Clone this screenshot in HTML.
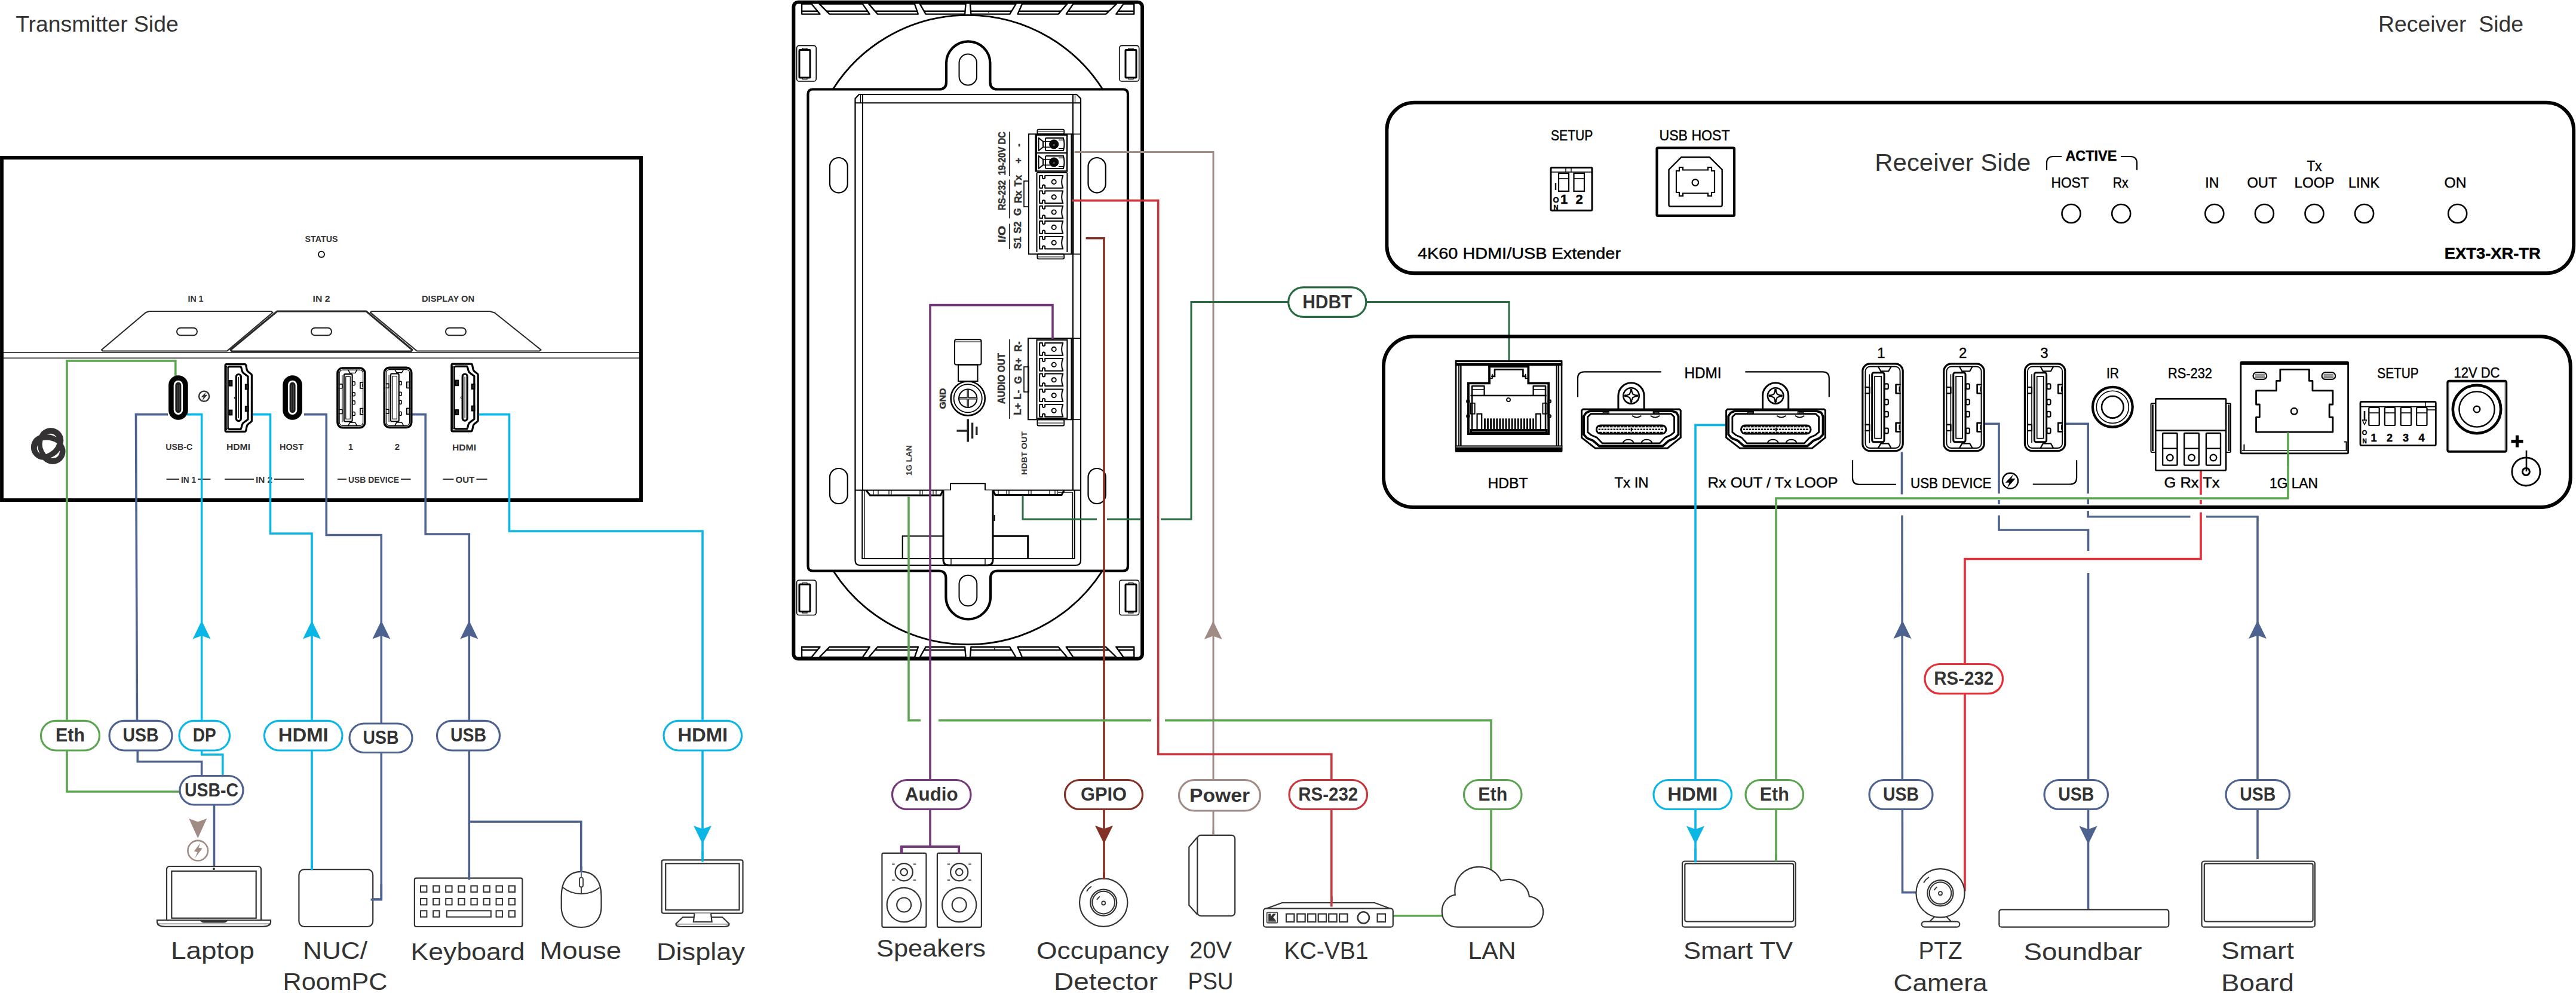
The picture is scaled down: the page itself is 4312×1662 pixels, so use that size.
<!DOCTYPE html>
<html><head><meta charset="utf-8"><title>Diagram</title>
<style>html,body{margin:0;padding:0;background:#fff}svg{display:block}text{font-family:"Liberation Sans",sans-serif}</style>
</head><body>
<svg width="4312" height="1662" viewBox="0 0 4312 1662">
<rect width="4312" height="1662" fill="#fff"/>
<text x="26.2" y="52.7" font-size="37" text-anchor="start" font-weight="normal" fill="#333333" textLength="272.5" lengthAdjust="spacingAndGlyphs" >Transmitter Side</text>
<text x="3981" y="52.8" font-size="37" text-anchor="start" font-weight="normal" fill="#333333" textLength="243" lengthAdjust="spacingAndGlyphs" >Receiver  Side</text>
<rect x="3" y="264" width="1070" height="573" rx="0" ry="0" fill="none" stroke="#000000" stroke-width="5.9" />
<path d="M6,590 L1070,590" fill="none" stroke="#111" stroke-width="1.6" stroke-linejoin="miter" />
<path d="M6,599.3 L1070,599.3" fill="none" stroke="#111" stroke-width="1.6" stroke-linejoin="miter" />
<text x="538" y="404.5" font-size="15" text-anchor="middle" font-weight="bold" fill="#333333" textLength="55" lengthAdjust="spacingAndGlyphs" >STATUS</text>
<circle cx="538" cy="425.7" r="5" fill="none" stroke="#111" stroke-width="2"/>
<text x="327.5" y="504.5" font-size="15" text-anchor="middle" font-weight="bold" fill="#333333" textLength="26" lengthAdjust="spacingAndGlyphs" >IN 1</text>
<text x="538" y="504.5" font-size="15" text-anchor="middle" font-weight="bold" fill="#333333" textLength="29" lengthAdjust="spacingAndGlyphs" >IN 2</text>
<text x="750" y="504.5" font-size="15" text-anchor="middle" font-weight="bold" fill="#333333" textLength="88" lengthAdjust="spacingAndGlyphs" >DISPLAY ON</text>
<path d="M250,521 L454,521 L456.5,523 L380,587.5 L172,587.5 L170,585.5 L244,523 Z" fill="#fff" stroke="#2a2a2a" stroke-width="2.2" stroke-linejoin="round"/>
<path d="M622,521 L820,521 L828,523.5 L905.5,585.5 L903,587.5 L698,587.5 L620,523 Z" fill="#fff" stroke="#2a2a2a" stroke-width="2.2" stroke-linejoin="round"/>
<path d="M464,521 L613,521 L690,585.5 L688,588 L388,588 L386,585.5 Z" fill="#fff" stroke="#2a2a2a" stroke-width="3" stroke-linejoin="round"/>
<rect x="296" y="548.7" width="34" height="12.6" rx="6.3" ry="6.3" fill="none" stroke="#222" stroke-width="2" />
<rect x="521" y="548.7" width="34" height="12.6" rx="6.3" ry="6.3" fill="none" stroke="#222" stroke-width="2" />
<rect x="746" y="548.7" width="34" height="12.6" rx="6.3" ry="6.3" fill="none" stroke="#222" stroke-width="2" />
<text x="299.7" y="752.7" font-size="15" text-anchor="middle" font-weight="bold" fill="#333333" textLength="45" lengthAdjust="spacingAndGlyphs" >USB-C</text>
<text x="399" y="752.7" font-size="15" text-anchor="middle" font-weight="bold" fill="#333333" textLength="40" lengthAdjust="spacingAndGlyphs" >HDMI</text>
<text x="488" y="752.7" font-size="15" text-anchor="middle" font-weight="bold" fill="#333333" textLength="40" lengthAdjust="spacingAndGlyphs" >HOST</text>
<text x="587" y="752.7" font-size="15" text-anchor="middle" font-weight="bold" fill="#333333" >1</text>
<text x="665" y="752.7" font-size="15" text-anchor="middle" font-weight="bold" fill="#333333" >2</text>
<text x="777" y="753.7" font-size="15" text-anchor="middle" font-weight="bold" fill="#333333" textLength="40" lengthAdjust="spacingAndGlyphs" >HDMI</text>
<text x="315.5" y="807.5" font-size="15" text-anchor="middle" font-weight="bold" fill="#333333" textLength="25" lengthAdjust="spacingAndGlyphs" >IN 1</text>
<path d="M278.5,802 L300,802" fill="none" stroke="#333" stroke-width="2" stroke-linejoin="miter" />
<path d="M331,802 L352.5,802" fill="none" stroke="#333" stroke-width="2" stroke-linejoin="miter" />
<text x="442" y="807.5" font-size="15" text-anchor="middle" font-weight="bold" fill="#333333" textLength="28" lengthAdjust="spacingAndGlyphs" >IN 2</text>
<path d="M376,802 L425,802" fill="none" stroke="#333" stroke-width="2" stroke-linejoin="miter" />
<path d="M459,802 L509,802" fill="none" stroke="#333" stroke-width="2" stroke-linejoin="miter" />
<text x="625.5" y="807.5" font-size="15" text-anchor="middle" font-weight="bold" fill="#333333" textLength="85" lengthAdjust="spacingAndGlyphs" >USB DEVICE</text>
<path d="M565,802 L580,802" fill="none" stroke="#333" stroke-width="2" stroke-linejoin="miter" />
<path d="M671,802 L687.5,802" fill="none" stroke="#333" stroke-width="2" stroke-linejoin="miter" />
<text x="778.4" y="807.5" font-size="15" text-anchor="middle" font-weight="bold" fill="#333333" textLength="32" lengthAdjust="spacingAndGlyphs" >OUT</text>
<path d="M741.5,802 L759.4,802" fill="none" stroke="#333" stroke-width="2" stroke-linejoin="miter" />
<path d="M797.4,802 L815.5,802" fill="none" stroke="#333" stroke-width="2" stroke-linejoin="miter" />
<path d="M293.8,629 L293.8,604 L112,604 L112,1325 L300,1325" fill="none" stroke="#5ba551" stroke-width="3.6" stroke-linejoin="miter" />
<path d="M281,693.6 L227.5,693.6 L229.5,1208" fill="none" stroke="#4e628f" stroke-width="3.6" stroke-linejoin="miter" />
<path d="M230.3,1255 L230.3,1274.8 L337.6,1274.8 L337.6,1298" fill="none" stroke="#4e628f" stroke-width="3.6" stroke-linejoin="miter" />
<path d="M313,693.6 L337.6,693.6 L337.6,1208" fill="none" stroke="#0ab6e6" stroke-width="3.6" stroke-linejoin="miter" />
<path d="M337.6,1255 L337.6,1263 L372.8,1263 L372.8,1298" fill="none" stroke="#0ab6e6" stroke-width="3.6" stroke-linejoin="miter" />
<path d="M423,693.6 L452.5,693.6 L452.5,893 L522,893 L522,1454" fill="none" stroke="#0ab6e6" stroke-width="3.6" stroke-linejoin="miter" />
<path d="M509,693.6 L546.3,693.6 L546.3,895.5 L638.3,895.5 L638.3,1505 L621,1505" fill="none" stroke="#4e628f" stroke-width="3.6" stroke-linejoin="miter" />
<path d="M690,693.6 L712.2,693.6 L712.2,894 L785.3,894 L785.3,1471" fill="none" stroke="#4e628f" stroke-width="3.6" stroke-linejoin="miter" />
<path d="M785.3,1375.3 L972.7,1375.3 L972.7,1484" fill="none" stroke="#4e628f" stroke-width="3.6" stroke-linejoin="miter" />
<path d="M802,693.6 L852.5,693.6 L852.5,889 L1176,889 L1176,1441" fill="none" stroke="#0ab6e6" stroke-width="3.6" stroke-linejoin="miter" />
<path d="M358.5,1346 L358.5,1454" fill="none" stroke="#4e628f" stroke-width="3.6" stroke-linejoin="miter" />
<path d="M337.6,1038.8 L352.6,1069.4 L337.6,1063.9 L322.6,1069.4 Z" fill="#0ab6e6" stroke="none"/>
<path d="M522,1038.8 L537,1069.4 L522,1063.9 L507,1069.4 Z" fill="#0ab6e6" stroke="none"/>
<path d="M638.3,1038.8 L653.3,1069.4 L638.3,1063.9 L623.3,1069.4 Z" fill="#4e628f" stroke="none"/>
<path d="M785.3,1038.8 L800.3,1069.4 L785.3,1063.9 L770.3,1069.4 Z" fill="#4e628f" stroke="none"/>
<path d="M1176,1412.5 L1191,1381.9 L1176,1387.4 L1161,1381.9 Z" fill="#0ab6e6" stroke="none"/>
<path d="M331.2,1403 L346.2,1370 L331.2,1375.5 L316.2,1370 Z" fill="#a18b85" stroke="none"/>
<rect x="68.5" y="1206.3" width="98" height="49.7" rx="24.85" ry="24.85" fill="#fff" stroke="#5ba551" stroke-width="3.2" />
<text x="117.5" y="1240.91" font-size="30.5" text-anchor="middle" font-weight="bold" fill="#333333" textLength="49" lengthAdjust="spacingAndGlyphs" >Eth</text>
<rect x="183" y="1206.3" width="105" height="49.7" rx="24.85" ry="24.85" fill="#fff" stroke="#4e628f" stroke-width="3.2" />
<text x="235.5" y="1240.91" font-size="30.5" text-anchor="middle" font-weight="bold" fill="#333333" textLength="60" lengthAdjust="spacingAndGlyphs" >USB</text>
<rect x="300" y="1206.3" width="84.5" height="49.7" rx="24.85" ry="24.85" fill="#fff" stroke="#0ab6e6" stroke-width="3.2" />
<text x="342.25" y="1240.91" font-size="30.5" text-anchor="middle" font-weight="bold" fill="#333333" textLength="39" lengthAdjust="spacingAndGlyphs" >DP</text>
<rect x="442.5" y="1206.3" width="130.5" height="49.7" rx="24.85" ry="24.85" fill="#fff" stroke="#0ab6e6" stroke-width="3.2" />
<text x="507.75" y="1240.91" font-size="30.5" text-anchor="middle" font-weight="bold" fill="#333333" textLength="84" lengthAdjust="spacingAndGlyphs" >HDMI</text>
<rect x="585" y="1211" width="105" height="48.5" rx="24.25" ry="24.25" fill="#fff" stroke="#4e628f" stroke-width="3.2" />
<text x="637.5" y="1245.01" font-size="30.5" text-anchor="middle" font-weight="bold" fill="#333333" textLength="60" lengthAdjust="spacingAndGlyphs" >USB</text>
<rect x="731.5" y="1206.3" width="105" height="49.7" rx="24.85" ry="24.85" fill="#fff" stroke="#4e628f" stroke-width="3.2" />
<text x="784" y="1240.91" font-size="30.5" text-anchor="middle" font-weight="bold" fill="#333333" textLength="60" lengthAdjust="spacingAndGlyphs" >USB</text>
<rect x="1111" y="1206.3" width="130.5" height="49.7" rx="24.85" ry="24.85" fill="#fff" stroke="#0ab6e6" stroke-width="3.2" />
<text x="1176.25" y="1240.91" font-size="30.5" text-anchor="middle" font-weight="bold" fill="#333333" textLength="84" lengthAdjust="spacingAndGlyphs" >HDMI</text>
<rect x="301" y="1298.5" width="106" height="48.5" rx="24.25" ry="24.25" fill="#fff" stroke="#4e628f" stroke-width="3.2" />
<text x="354" y="1332.51" font-size="30.5" text-anchor="middle" font-weight="bold" fill="#333333" textLength="90" lengthAdjust="spacingAndGlyphs" >USB-C</text>
<text x="356" y="1605.3" font-size="41.5" text-anchor="middle" font-weight="normal" fill="#333333" textLength="140" lengthAdjust="spacingAndGlyphs" >Laptop</text>
<text x="561" y="1605.3" font-size="41.5" text-anchor="middle" font-weight="normal" fill="#333333" textLength="108" lengthAdjust="spacingAndGlyphs" >NUC/</text>
<text x="561" y="1657.3" font-size="41.5" text-anchor="middle" font-weight="normal" fill="#333333" textLength="175" lengthAdjust="spacingAndGlyphs" >RoomPC</text>
<text x="783" y="1607.3" font-size="41.5" text-anchor="middle" font-weight="normal" fill="#333333" textLength="191" lengthAdjust="spacingAndGlyphs" >Keyboard</text>
<text x="971.7" y="1605.3" font-size="41.5" text-anchor="middle" font-weight="normal" fill="#333333" textLength="137" lengthAdjust="spacingAndGlyphs" >Mouse</text>
<text x="1173" y="1607.3" font-size="41.5" text-anchor="middle" font-weight="normal" fill="#333333" textLength="148" lengthAdjust="spacingAndGlyphs" >Display</text>
<rect x="1328.4" y="3.6" width="583.7" height="1098.9" rx="7.5" ry="7.5" fill="none" stroke="#000" stroke-width="5.9" />
<path d="M1394.8,148.5 A 267.5 267.5 0 0 1 1845.2,148.5" fill="none" stroke="#000" stroke-width="2.8" />
<path d="M1394.8,955.5 A 267.5 267.5 0 0 0 1845.2,955.5" fill="none" stroke="#000" stroke-width="2.8" />
<path d="M1342.1,1082.8 L1372.5,1082.8 L1358.4,1100 L1342.1,1100 Z" fill="#fff" stroke="#000" stroke-width="2.4" stroke-linejoin="round"/>
<path d="M1342.1,1087.9 L1368.32,1087.9" fill="none" stroke="#000" stroke-width="2.4" stroke-linejoin="miter" />
<path d="M1388.5,1082.8 L1455.7,1082.8 L1443.9,1100 L1371.6,1100 Z" fill="#fff" stroke="#000" stroke-width="2.4" stroke-linejoin="round"/>
<path d="M1383.49,1087.9 L1452.2,1087.9" fill="none" stroke="#000" stroke-width="2.4" stroke-linejoin="miter" />
<path d="M1469,1082.8 L1536.9,1082.8 L1531,1100 L1454.3,1100 Z" fill="#fff" stroke="#000" stroke-width="2.4" stroke-linejoin="round"/>
<path d="M1464.64,1087.9 L1535.15,1087.9" fill="none" stroke="#000" stroke-width="2.4" stroke-linejoin="miter" />
<path d="M1549.6,1082.8 L1615.1,1082.8 L1616.6,1100 L1539.8,1100 Z" fill="#fff" stroke="#000" stroke-width="2.4" stroke-linejoin="round"/>
<path d="M1546.69,1087.9 L1615.54,1087.9" fill="none" stroke="#000" stroke-width="2.4" stroke-linejoin="miter" />
<path d="M1625.4,1082.8 L1690.3,1082.8 L1700.6,1100 L1623.9,1100 Z" fill="#fff" stroke="#000" stroke-width="2.4" stroke-linejoin="round"/>
<path d="M1624.96,1087.9 L1693.35,1087.9" fill="none" stroke="#000" stroke-width="2.4" stroke-linejoin="miter" />
<path d="M1703.6,1082.8 L1771.5,1082.8 L1786.2,1100 L1711,1100 Z" fill="#fff" stroke="#000" stroke-width="2.4" stroke-linejoin="round"/>
<path d="M1705.79,1087.9 L1775.86,1087.9" fill="none" stroke="#000" stroke-width="2.4" stroke-linejoin="miter" />
<path d="M1784.7,1082.8 L1851.1,1082.8 L1868.8,1100 L1796.5,1100 Z" fill="#fff" stroke="#000" stroke-width="2.4" stroke-linejoin="round"/>
<path d="M1788.2,1087.9 L1856.35,1087.9" fill="none" stroke="#000" stroke-width="2.4" stroke-linejoin="miter" />
<path d="M1868.2,1082.8 L1898.3,1082.8 L1898.3,1100 L1880.6,1100 Z" fill="#fff" stroke="#000" stroke-width="2.4" stroke-linejoin="round"/>
<path d="M1871.88,1087.9 L1898.3,1087.9" fill="none" stroke="#000" stroke-width="2.4" stroke-linejoin="miter" />
<path d="M1342.1,23.6 L1372.5,23.6 L1358.4,6.6 L1342.1,6.6 Z" fill="#fff" stroke="#000" stroke-width="2.4" stroke-linejoin="round"/>
<path d="M1342.1,18.7 L1368.44,18.7" fill="none" stroke="#000" stroke-width="2.4" stroke-linejoin="miter" />
<path d="M1388.5,23.6 L1455.7,23.6 L1443.9,6.6 L1371.6,6.6 Z" fill="#fff" stroke="#000" stroke-width="2.4" stroke-linejoin="round"/>
<path d="M1383.63,18.7 L1452.3,18.7" fill="none" stroke="#000" stroke-width="2.4" stroke-linejoin="miter" />
<path d="M1469,23.6 L1536.9,23.6 L1531,6.6 L1454.3,6.6 Z" fill="#fff" stroke="#000" stroke-width="2.4" stroke-linejoin="round"/>
<path d="M1464.76,18.7 L1535.2,18.7" fill="none" stroke="#000" stroke-width="2.4" stroke-linejoin="miter" />
<path d="M1549.6,23.6 L1615.1,23.6 L1616.6,6.6 L1539.8,6.6 Z" fill="#fff" stroke="#000" stroke-width="2.4" stroke-linejoin="round"/>
<path d="M1546.78,18.7 L1615.53,18.7" fill="none" stroke="#000" stroke-width="2.4" stroke-linejoin="miter" />
<path d="M1625.4,23.6 L1690.3,23.6 L1700.6,6.6 L1623.9,6.6 Z" fill="#fff" stroke="#000" stroke-width="2.4" stroke-linejoin="round"/>
<path d="M1624.97,18.7 L1693.27,18.7" fill="none" stroke="#000" stroke-width="2.4" stroke-linejoin="miter" />
<path d="M1703.6,23.6 L1771.5,23.6 L1786.2,6.6 L1711,6.6 Z" fill="#fff" stroke="#000" stroke-width="2.4" stroke-linejoin="round"/>
<path d="M1705.73,18.7 L1775.74,18.7" fill="none" stroke="#000" stroke-width="2.4" stroke-linejoin="miter" />
<path d="M1784.7,23.6 L1851.1,23.6 L1868.8,6.6 L1796.5,6.6 Z" fill="#fff" stroke="#000" stroke-width="2.4" stroke-linejoin="round"/>
<path d="M1788.1,18.7 L1856.2,18.7" fill="none" stroke="#000" stroke-width="2.4" stroke-linejoin="miter" />
<path d="M1868.2,23.6 L1898.3,23.6 L1898.3,6.6 L1880.6,6.6 Z" fill="#fff" stroke="#000" stroke-width="2.4" stroke-linejoin="round"/>
<path d="M1871.77,18.7 L1898.3,18.7" fill="none" stroke="#000" stroke-width="2.4" stroke-linejoin="miter" />
<path d="M1665,1085 L1665,1088" fill="none" stroke="#000" stroke-width="1.5" stroke-linejoin="miter" />
<path d="M1655,21.5 L1655,18.7" fill="none" stroke="#000" stroke-width="1.5" stroke-linejoin="miter" />
<rect x="1333.6" y="76.4" width="32.6" height="59.6" rx="4" ry="4" fill="none" stroke="#000" stroke-width="1.6" />
<rect x="1338" y="83.4" width="18" height="46.6" rx="1" ry="1" fill="none" stroke="#000" stroke-width="3" />
<rect x="1343" y="80.9" width="8" height="2.5" rx="0" ry="0" fill="none" stroke="#000" stroke-width="1.2" />
<rect x="1343" y="130" width="8" height="2.5" rx="0" ry="0" fill="none" stroke="#000" stroke-width="1.2" />
<rect x="1333.6" y="971" width="32.6" height="58.5" rx="4" ry="4" fill="none" stroke="#000" stroke-width="1.6" />
<rect x="1338" y="978" width="18" height="45.5" rx="1" ry="1" fill="none" stroke="#000" stroke-width="3" />
<rect x="1343" y="975.5" width="8" height="2.5" rx="0" ry="0" fill="none" stroke="#000" stroke-width="1.2" />
<rect x="1343" y="1023.5" width="8" height="2.5" rx="0" ry="0" fill="none" stroke="#000" stroke-width="1.2" />
<rect x="1873.7" y="76.4" width="33" height="59.6" rx="4" ry="4" fill="none" stroke="#000" stroke-width="1.6" />
<rect x="1884" y="83.4" width="18" height="46.6" rx="1" ry="1" fill="none" stroke="#000" stroke-width="3" />
<rect x="1889" y="80.9" width="8" height="2.5" rx="0" ry="0" fill="none" stroke="#000" stroke-width="1.2" />
<rect x="1889" y="130" width="8" height="2.5" rx="0" ry="0" fill="none" stroke="#000" stroke-width="1.2" />
<rect x="1873.7" y="971" width="33" height="58.5" rx="4" ry="4" fill="none" stroke="#000" stroke-width="1.6" />
<rect x="1884" y="978" width="18" height="45.5" rx="1" ry="1" fill="none" stroke="#000" stroke-width="3" />
<rect x="1889" y="975.5" width="8" height="2.5" rx="0" ry="0" fill="none" stroke="#000" stroke-width="1.2" />
<rect x="1889" y="1023.5" width="8" height="2.5" rx="0" ry="0" fill="none" stroke="#000" stroke-width="1.2" />
<path d="M1360.5,149.5 L1572,149.5 Q1584,149.5 1584,137.5 L1584,106 A36.7 36.7 0 0 1 1657.4,106 L1657.4,137.5 Q1657.4,149.5 1669.4,149.5 L1880,149.5 Q1888,149.5 1888,157.5 L1888,947.5 Q1888,955.5 1880,955.5 L1670,955.5 Q1658,955.5 1658,967.5 L1658,999 A37.3 37.3 0 0 1 1583.4,999 L1583.4,967.5 Q1583.4,955.5 1571.4,955.5 L1360.5,955.5 Q1352.5,955.5 1352.5,947.5 L1352.5,157.5 Q1352.5,149.5 1360.5,149.5 Z" fill="#fff" stroke="#000" stroke-width="4.2" />
<rect x="1605.5" y="90.6" width="29.5" height="52" rx="14.7" ry="14.7" fill="none" stroke="#000" stroke-width="2" />
<rect x="1605.5" y="962.7" width="29.8" height="51.5" rx="14.9" ry="14.9" fill="none" stroke="#000" stroke-width="2" />
<rect x="1389" y="264" width="29.8" height="58.6" rx="14.8" ry="14.8" fill="none" stroke="#000" stroke-width="2.2" />
<rect x="1389" y="784" width="29.8" height="59" rx="14.8" ry="14.8" fill="none" stroke="#000" stroke-width="2.2" />
<rect x="1821.5" y="264" width="29.3" height="58.6" rx="14.8" ry="14.8" fill="none" stroke="#000" stroke-width="2.2" />
<rect x="1821.5" y="784" width="29.3" height="59" rx="14.8" ry="14.8" fill="none" stroke="#000" stroke-width="2.2" />
<path d="M1431.5,165 L1438,158 L1802,158 L1809,165 L1809,938 Q1809,946 1801,946 L1439.5,946 Q1431.5,946 1431.5,938 Z" fill="#fff" stroke="#000" stroke-width="2.2" />
<path d="M1431.5,172.2 L1809,172.2" fill="none" stroke="#000" stroke-width="2" stroke-linejoin="miter" />
<path d="M1444,158 L1444,820.5" fill="none" stroke="#000" stroke-width="2" stroke-linejoin="miter" />
<path d="M1440.5,158 L1440.5,172" fill="none" stroke="#000" stroke-width="1.2" stroke-linejoin="miter" />
<path d="M1796,158 L1796,820.5" fill="none" stroke="#000" stroke-width="2" stroke-linejoin="miter" />
<path d="M1799.5,158 L1799.5,172" fill="none" stroke="#000" stroke-width="1.2" stroke-linejoin="miter" />
<path d="M1431.5,820.5 L1591,820.5 L1591,809.2 L1649,809.2 L1649,820.5 L1809,820.5" fill="none" stroke="#000" stroke-width="2" stroke-linejoin="miter" />
<path d="M1443.3,820.5 L1443.3,935 L1798.7,935 L1798.7,820.5" fill="none" stroke="#000" stroke-width="2" stroke-linejoin="miter" />
<path d="M1446.8,820.5 L1446.8,935" fill="none" stroke="#000" stroke-width="1.4" stroke-linejoin="miter" />
<path d="M1795.4,824 L1795.4,935" fill="none" stroke="#000" stroke-width="1.4" stroke-linejoin="miter" />
<path d="M1771,824 L1795.4,824" fill="none" stroke="#000" stroke-width="1.4" stroke-linejoin="miter" />
<path d="M1450,821 L1456.5,829 L1574.5,829 L1578,821" fill="none" stroke="#000" stroke-width="3" />
<path d="M1662.5,821 L1666,828.5 L1777,828.5 L1781,821" fill="none" stroke="#000" stroke-width="3" />
<path d="M1462,821 L1462,827.5" fill="none" stroke="#000" stroke-width="1.2" stroke-linejoin="miter" />
<path d="M1470,821 L1470,827.5" fill="none" stroke="#000" stroke-width="1.2" stroke-linejoin="miter" />
<path d="M1488,821 L1488,827.5" fill="none" stroke="#000" stroke-width="1.2" stroke-linejoin="miter" />
<path d="M1492,821 L1492,827.5" fill="none" stroke="#000" stroke-width="1.2" stroke-linejoin="miter" />
<path d="M1540,821 L1540,827.5" fill="none" stroke="#000" stroke-width="1.2" stroke-linejoin="miter" />
<path d="M1544,821 L1544,827.5" fill="none" stroke="#000" stroke-width="1.2" stroke-linejoin="miter" />
<path d="M1562,821 L1562,827.5" fill="none" stroke="#000" stroke-width="1.2" stroke-linejoin="miter" />
<path d="M1567,821 L1567,827.5" fill="none" stroke="#000" stroke-width="1.2" stroke-linejoin="miter" />
<path d="M1671,821 L1671,827.5" fill="none" stroke="#000" stroke-width="1.2" stroke-linejoin="miter" />
<path d="M1685,821 L1685,827.5" fill="none" stroke="#000" stroke-width="1.2" stroke-linejoin="miter" />
<path d="M1689,821 L1689,827.5" fill="none" stroke="#000" stroke-width="1.2" stroke-linejoin="miter" />
<path d="M1722,821 L1722,827.5" fill="none" stroke="#000" stroke-width="1.2" stroke-linejoin="miter" />
<path d="M1726,821 L1726,827.5" fill="none" stroke="#000" stroke-width="1.2" stroke-linejoin="miter" />
<path d="M1757,821 L1757,827.5" fill="none" stroke="#000" stroke-width="1.2" stroke-linejoin="miter" />
<path d="M1766,821 L1766,827.5" fill="none" stroke="#000" stroke-width="1.2" stroke-linejoin="miter" />
<path d="M1770,821 L1770,827.5" fill="none" stroke="#000" stroke-width="1.2" stroke-linejoin="miter" />
<path d="M1579,820.5 L1579,937 Q1579,946 1588,946 L1653,946 Q1662,946 1662,937 L1662,820.5" fill="#fff" stroke="#000" stroke-width="3" />
<path d="M1579,935 L1662,935" fill="none" stroke="#000" stroke-width="2" stroke-linejoin="miter" />
<path d="M1592,935 L1592,946" fill="none" stroke="#000" stroke-width="1.4" stroke-linejoin="miter" />
<path d="M1649,935 L1649,946" fill="none" stroke="#000" stroke-width="1.4" stroke-linejoin="miter" />
<path d="M1510.7,935 L1510.7,897.3 L1579,897.3" fill="none" stroke="#000" stroke-width="2" stroke-linejoin="miter" />
<path d="M1662,897.3 L1720.7,897.3 L1720.7,935" fill="none" stroke="#000" stroke-width="3" stroke-linejoin="miter" />
<path d="M1664.5,862 L1664.5,872" fill="none" stroke="#000" stroke-width="2" stroke-linejoin="miter" />
<rect x="1722" y="224.4" width="71.5" height="200.9" rx="0" ry="0" fill="none" stroke="#000" stroke-width="2" />
<path d="M1793.5,224.4 L1809,224.4" fill="none" stroke="#000" stroke-width="1.6" stroke-linejoin="miter" />
<path d="M1793.5,425.3 L1809,425.3" fill="none" stroke="#000" stroke-width="1.6" stroke-linejoin="miter" />
<path d="M1796.8,224.4 L1796.8,425.3" fill="none" stroke="#000" stroke-width="1.4" stroke-linejoin="miter" />
<rect x="1736.4" y="216.7" width="44.8" height="7.7" rx="2" ry="2" fill="none" stroke="#000" stroke-width="1.8" />
<path d="M1738,220 L1780,220" fill="none" stroke="#000" stroke-width="1.2" stroke-linejoin="miter" />
<rect x="1736.4" y="425.3" width="44.8" height="8" rx="2" ry="2" fill="none" stroke="#000" stroke-width="1.8" />
<path d="M1738,430 L1780,430" fill="none" stroke="#000" stroke-width="1.2" stroke-linejoin="miter" />
<rect x="1734" y="226" width="52.2" height="60.5" rx="0" ry="0" fill="none" stroke="#000" stroke-width="2.4" />
<path d="M1734.2,226 L1734.2,286.5" fill="none" stroke="#000" stroke-width="3.4" stroke-linejoin="miter" />
<path d="M1735.5,256 L1786.4,256" fill="none" stroke="#000" stroke-width="2" stroke-linejoin="miter" />
<path d="M1738.5,230.9 L1746,236.70000000000002 L1746,246.29999999999998 L1738.5,252.1 Z" fill="none" stroke="#000" stroke-width="2" stroke-linejoin="round"/>
<path d="M1751.5,230.9 L1780,230.9 Q1783,241.5 1780,252.1 L1751.5,252.1 Q1750,252.1 1750,250.6 L1750,232.4 Q1750,230.9 1751.5,230.9 Z" fill="none" stroke="#000" stroke-width="2" />
<path d="M1746,236.7 L1762,236.7" fill="none" stroke="#000" stroke-width="1.6" stroke-linejoin="miter" />
<path d="M1746,246.3 L1762,246.3" fill="none" stroke="#000" stroke-width="1.6" stroke-linejoin="miter" />
<path d="M1772,234.3 L1780,234.3" fill="none" stroke="#000" stroke-width="1.4" stroke-linejoin="miter" />
<path d="M1772,248.7 L1780,248.7" fill="none" stroke="#000" stroke-width="1.4" stroke-linejoin="miter" />
<circle cx="1764.2" cy="241.5" r="7.6" fill="#0a0a0a" stroke="#000" stroke-width="1"/>
<text x="1764.2" y="243.5" font-size="6" text-anchor="middle" font-weight="normal" fill="#bbb" >x</text>
<path d="M1738.5,260.9 L1746,266.7 L1746,276.3 L1738.5,282.1 Z" fill="none" stroke="#000" stroke-width="2" stroke-linejoin="round"/>
<path d="M1751.5,260.9 L1780,260.9 Q1783,271.5 1780,282.1 L1751.5,282.1 Q1750,282.1 1750,280.6 L1750,262.4 Q1750,260.9 1751.5,260.9 Z" fill="none" stroke="#000" stroke-width="2" />
<path d="M1746,266.7 L1762,266.7" fill="none" stroke="#000" stroke-width="1.6" stroke-linejoin="miter" />
<path d="M1746,276.3 L1762,276.3" fill="none" stroke="#000" stroke-width="1.6" stroke-linejoin="miter" />
<path d="M1772,264.3 L1780,264.3" fill="none" stroke="#000" stroke-width="1.4" stroke-linejoin="miter" />
<path d="M1772,278.7 L1780,278.7" fill="none" stroke="#000" stroke-width="1.4" stroke-linejoin="miter" />
<circle cx="1764.2" cy="271.5" r="7.6" fill="#0a0a0a" stroke="#000" stroke-width="1"/>
<text x="1764.2" y="273.5" font-size="6" text-anchor="middle" font-weight="normal" fill="#bbb" >x</text>
<path d="M1735.5,289 L1735.5,422" fill="none" stroke="#000" stroke-width="2" stroke-linejoin="miter" />
<path d="M1786.4,289 L1786.4,422" fill="none" stroke="#000" stroke-width="2" stroke-linejoin="miter" />
<path d="M1735.5,289 L1786.4,289" fill="none" stroke="#000" stroke-width="2" stroke-linejoin="miter" />
<path d="M1740.2,294.09999999999997 L1745,294.09999999999997 L1745,298.09999999999997 Q1747,300.29999999999995 1749.2,298.09999999999997 L1749.2,294.09999999999997 L1779.3,294.09999999999997 Q1775,304.4 1779.3,314.7 L1749.2,314.7 L1749.2,310.7 Q1747,308.5 1745,310.7 L1745,314.7 L1740.2,314.7 Z" fill="none" stroke="#000" stroke-width="2" stroke-linejoin="round"/>
<circle cx="1764.2" cy="304.4" r="3.6" fill="#fff" stroke="#000" stroke-width="1.9"/>
<path d="M1740.2,319.5 L1745,319.5 L1745,323.5 Q1747,325.7 1749.2,323.5 L1749.2,319.5 L1779.3,319.5 Q1775,329.8 1779.3,340.1 L1749.2,340.1 L1749.2,336.1 Q1747,333.90000000000003 1745,336.1 L1745,340.1 L1740.2,340.1 Z" fill="none" stroke="#000" stroke-width="2" stroke-linejoin="round"/>
<circle cx="1764.2" cy="329.8" r="3.6" fill="#fff" stroke="#000" stroke-width="1.9"/>
<path d="M1740.2,344.7 L1745,344.7 L1745,348.7 Q1747,350.9 1749.2,348.7 L1749.2,344.7 L1779.3,344.7 Q1775,355.0 1779.3,365.3 L1749.2,365.3 L1749.2,361.3 Q1747,359.1 1745,361.3 L1745,365.3 L1740.2,365.3 Z" fill="none" stroke="#000" stroke-width="2" stroke-linejoin="round"/>
<circle cx="1764.2" cy="355" r="3.6" fill="#fff" stroke="#000" stroke-width="1.9"/>
<path d="M1740.2,370.09999999999997 L1745,370.09999999999997 L1745,374.09999999999997 Q1747,376.29999999999995 1749.2,374.09999999999997 L1749.2,370.09999999999997 L1779.3,370.09999999999997 Q1775,380.4 1779.3,390.7 L1749.2,390.7 L1749.2,386.7 Q1747,384.5 1745,386.7 L1745,390.7 L1740.2,390.7 Z" fill="none" stroke="#000" stroke-width="2" stroke-linejoin="round"/>
<circle cx="1764.2" cy="380.4" r="3.6" fill="#fff" stroke="#000" stroke-width="1.9"/>
<path d="M1740.2,395.9 L1745,395.9 L1745,399.9 Q1747,402.09999999999997 1749.2,399.9 L1749.2,395.9 L1779.3,395.9 Q1775,406.2 1779.3,416.5 L1749.2,416.5 L1749.2,412.5 Q1747,410.3 1745,412.5 L1745,416.5 L1740.2,416.5 Z" fill="none" stroke="#000" stroke-width="2" stroke-linejoin="round"/>
<circle cx="1764.2" cy="406.2" r="3.6" fill="#fff" stroke="#000" stroke-width="1.9"/>
<rect x="1714" y="303" width="8" height="43" rx="0" ry="0" fill="none" stroke="#000" stroke-width="1.6" />
<text x="1683.5" y="256.8" font-size="16.5" text-anchor="middle" font-weight="bold" fill="#333333" textLength="73" lengthAdjust="spacingAndGlyphs" transform="rotate(-90 1683.5 256.8)" stroke="#333" stroke-width="0.5">19-20V DC</text>
<text x="1683.5" y="326.8" font-size="16.5" text-anchor="middle" font-weight="bold" fill="#333333" textLength="50" lengthAdjust="spacingAndGlyphs" transform="rotate(-90 1683.5 326.8)" stroke="#333" stroke-width="0.5">RS-232</text>
<text x="1683.5" y="391.8" font-size="16.5" text-anchor="middle" font-weight="bold" fill="#333333" textLength="28" lengthAdjust="spacingAndGlyphs" transform="rotate(-90 1683.5 391.8)" stroke="#333" stroke-width="0.5">I/O</text>
<path d="M1689.8,220.5 L1689.8,295" fill="none" stroke="#222" stroke-width="1.6" stroke-linejoin="miter" />
<path d="M1689.8,300.5 L1689.8,365.5" fill="none" stroke="#222" stroke-width="1.6" stroke-linejoin="miter" />
<path d="M1689.8,374.5 L1689.8,417" fill="none" stroke="#222" stroke-width="1.6" stroke-linejoin="miter" />
<text x="1709.5" y="243" font-size="16.5" text-anchor="middle" font-weight="bold" fill="#333333" transform="rotate(-90 1709.5 243)" stroke="#333" stroke-width="0.5">-</text>
<text x="1709.5" y="269" font-size="16.5" text-anchor="middle" font-weight="bold" fill="#333333" transform="rotate(-90 1709.5 269)" stroke="#333" stroke-width="0.5">+</text>
<text x="1709.5" y="302.5" font-size="16.5" text-anchor="middle" font-weight="bold" fill="#333333" transform="rotate(-90 1709.5 302.5)" stroke="#333" stroke-width="0.5">Tx</text>
<text x="1709.5" y="329.5" font-size="16.5" text-anchor="middle" font-weight="bold" fill="#333333" transform="rotate(-90 1709.5 329.5)" stroke="#333" stroke-width="0.5">Rx</text>
<text x="1709.5" y="354.7" font-size="16.5" text-anchor="middle" font-weight="bold" fill="#333333" transform="rotate(-90 1709.5 354.7)" stroke="#333" stroke-width="0.5">G</text>
<text x="1709.5" y="380.7" font-size="16.5" text-anchor="middle" font-weight="bold" fill="#333333" transform="rotate(-90 1709.5 380.7)" stroke="#333" stroke-width="0.5">S2</text>
<text x="1709.5" y="406.3" font-size="16.5" text-anchor="middle" font-weight="bold" fill="#333333" transform="rotate(-90 1709.5 406.3)" stroke="#333" stroke-width="0.5">S1</text>
<rect x="1721" y="566.3" width="72.5" height="136" rx="0" ry="0" fill="none" stroke="#000" stroke-width="2" />
<path d="M1793.5,566.3 L1809,566.3" fill="none" stroke="#000" stroke-width="1.6" stroke-linejoin="miter" />
<path d="M1793.5,702.3 L1809,702.3" fill="none" stroke="#000" stroke-width="1.6" stroke-linejoin="miter" />
<path d="M1796.8,566.3 L1796.8,702.3" fill="none" stroke="#000" stroke-width="1.4" stroke-linejoin="miter" />
<rect x="1736.4" y="702.3" width="44.8" height="10.2" rx="2" ry="2" fill="none" stroke="#000" stroke-width="1.8" />
<path d="M1738,708 L1780,708" fill="none" stroke="#000" stroke-width="1.2" stroke-linejoin="miter" />
<rect x="1735.5" y="569" width="50.9" height="131" rx="0" ry="0" fill="none" stroke="#000" stroke-width="2" />
<path d="M1740.2,574.1 L1745,574.1 L1745,578.1 Q1747,580.3000000000001 1749.2,578.1 L1749.2,574.1 L1779.3,574.1 Q1775,584.4 1779.3,594.6999999999999 L1749.2,594.6999999999999 L1749.2,590.6999999999999 Q1747,588.4999999999999 1745,590.6999999999999 L1745,594.6999999999999 L1740.2,594.6999999999999 Z" fill="none" stroke="#000" stroke-width="2" stroke-linejoin="round"/>
<circle cx="1764.2" cy="584.4" r="3.6" fill="#fff" stroke="#000" stroke-width="1.9"/>
<path d="M1740.2,600.1 L1745,600.1 L1745,604.1 Q1747,606.3000000000001 1749.2,604.1 L1749.2,600.1 L1779.3,600.1 Q1775,610.4 1779.3,620.6999999999999 L1749.2,620.6999999999999 L1749.2,616.6999999999999 Q1747,614.4999999999999 1745,616.6999999999999 L1745,620.6999999999999 L1740.2,620.6999999999999 Z" fill="none" stroke="#000" stroke-width="2" stroke-linejoin="round"/>
<circle cx="1764.2" cy="610.4" r="3.6" fill="#fff" stroke="#000" stroke-width="1.9"/>
<path d="M1740.2,625.5 L1745,625.5 L1745,629.5 Q1747,631.7 1749.2,629.5 L1749.2,625.5 L1779.3,625.5 Q1775,635.8 1779.3,646.0999999999999 L1749.2,646.0999999999999 L1749.2,642.0999999999999 Q1747,639.8999999999999 1745,642.0999999999999 L1745,646.0999999999999 L1740.2,646.0999999999999 Z" fill="none" stroke="#000" stroke-width="2" stroke-linejoin="round"/>
<circle cx="1764.2" cy="635.8" r="3.6" fill="#fff" stroke="#000" stroke-width="1.9"/>
<path d="M1740.2,651.5 L1745,651.5 L1745,655.5 Q1747,657.7 1749.2,655.5 L1749.2,651.5 L1779.3,651.5 Q1775,661.8 1779.3,672.0999999999999 L1749.2,672.0999999999999 L1749.2,668.0999999999999 Q1747,665.8999999999999 1745,668.0999999999999 L1745,672.0999999999999 L1740.2,672.0999999999999 Z" fill="none" stroke="#000" stroke-width="2" stroke-linejoin="round"/>
<circle cx="1764.2" cy="661.8" r="3.6" fill="#fff" stroke="#000" stroke-width="1.9"/>
<path d="M1740.2,676.9000000000001 L1745,676.9000000000001 L1745,680.9000000000001 Q1747,683.1000000000001 1749.2,680.9000000000001 L1749.2,676.9000000000001 L1779.3,676.9000000000001 Q1775,687.2 1779.3,697.5 L1749.2,697.5 L1749.2,693.5 Q1747,691.3 1745,693.5 L1745,697.5 L1740.2,697.5 Z" fill="none" stroke="#000" stroke-width="2" stroke-linejoin="round"/>
<circle cx="1764.2" cy="687.2" r="3.6" fill="#fff" stroke="#000" stroke-width="1.9"/>
<rect x="1714" y="614" width="8" height="42" rx="0" ry="0" fill="none" stroke="#000" stroke-width="1.6" />
<text x="1682" y="633.5" font-size="16.5" text-anchor="middle" font-weight="bold" fill="#333333" textLength="85" lengthAdjust="spacingAndGlyphs" transform="rotate(-90 1682 633.5)" stroke="#333" stroke-width="0.5">AUDIO OUT</text>
<path d="M1689.8,568 L1689.8,701" fill="none" stroke="#222" stroke-width="1.6" stroke-linejoin="miter" />
<text x="1709.5" y="580" font-size="16.5" text-anchor="middle" font-weight="bold" fill="#333333" transform="rotate(-90 1709.5 580)" stroke="#333" stroke-width="0.5">R-</text>
<text x="1709.5" y="610" font-size="16.5" text-anchor="middle" font-weight="bold" fill="#333333" transform="rotate(-90 1709.5 610)" stroke="#333" stroke-width="0.5">R+</text>
<text x="1709.5" y="636" font-size="16.5" text-anchor="middle" font-weight="bold" fill="#333333" transform="rotate(-90 1709.5 636)" stroke="#333" stroke-width="0.5">G</text>
<text x="1709.5" y="660.6" font-size="16.5" text-anchor="middle" font-weight="bold" fill="#333333" transform="rotate(-90 1709.5 660.6)" stroke="#333" stroke-width="0.5">L-</text>
<text x="1709.5" y="684.7" font-size="16.5" text-anchor="middle" font-weight="bold" fill="#333333" transform="rotate(-90 1709.5 684.7)" stroke="#333" stroke-width="0.5">L+</text>
<text x="1719" y="758.5" font-size="13.5" text-anchor="middle" font-weight="bold" fill="#333333" textLength="73" lengthAdjust="spacingAndGlyphs" transform="rotate(-90 1719 758.5)" >HDBT OUT</text>
<text x="1526" y="770.5" font-size="13.5" text-anchor="middle" font-weight="bold" fill="#333333" textLength="51" lengthAdjust="spacingAndGlyphs" transform="rotate(-90 1526 770.5)" >1G LAN</text>
<text x="1582.5" y="667" font-size="15" text-anchor="middle" font-weight="bold" fill="#333333" textLength="35" lengthAdjust="spacingAndGlyphs" transform="rotate(-90 1582.5 667)" stroke="#333" stroke-width="0.5">GND</text>
<rect x="1598" y="568.3" width="44.5" height="42.1" rx="3" ry="3" fill="none" stroke="#000" stroke-width="2" />
<path d="M1598,572 L1642.5,572" fill="none" stroke="#000" stroke-width="1.2" stroke-linejoin="miter" />
<rect x="1604" y="610.4" width="32.5" height="27.6" rx="0" ry="0" fill="none" stroke="#000" stroke-width="2" />
<circle cx="1620.2" cy="666.8" r="28.6" fill="#fff" stroke="#000" stroke-width="2.6"/>
<circle cx="1620.2" cy="666.8" r="23.6" fill="none" stroke="#000" stroke-width="1.8"/>
<circle cx="1620.2" cy="666.8" r="15.2" fill="none" stroke="#000" stroke-width="2"/>
<path d="M1620.2,652.5 L1620.2,681" fill="none" stroke="#000" stroke-width="3.4" stroke-linejoin="miter" />
<path d="M1606,666.8 L1634.5,666.8" fill="none" stroke="#000" stroke-width="3.4" stroke-linejoin="miter" />
<path d="M1620.2,652.5 L1620.2,681" fill="none" stroke="#fff" stroke-width="1" stroke-linejoin="miter" />
<path d="M1606,666.8 L1634.5,666.8" fill="none" stroke="#fff" stroke-width="1" stroke-linejoin="miter" />
<path d="M1601.5,721 L1619,721" fill="none" stroke="#222" stroke-width="3.4" stroke-linejoin="miter" />
<path d="M1620.2,701.5 L1620.2,739.5" fill="none" stroke="#222" stroke-width="3.6" stroke-linejoin="miter" />
<path d="M1627.6,707.5 L1627.6,734" fill="none" stroke="#222" stroke-width="3.4" stroke-linejoin="miter" />
<path d="M1634.8,714 L1634.8,728" fill="none" stroke="#222" stroke-width="3.4" stroke-linejoin="miter" />
<path d="M1798.5,254.4 L2031,254.4 L2031,1398" fill="none" stroke="#a18b85" stroke-width="3.0" stroke-linejoin="miter" />
<path d="M2030.7,1039.4 L2045.7,1070 L2030.7,1064.5 L2015.7,1070 Z" fill="#a18b85" stroke="none"/>
<path d="M1795,335.6 L1938.7,335.6 L1938.7,1262.4 L2228.8,1262.4 L2228.8,1517" fill="none" stroke="#c8353c" stroke-width="3.6" stroke-linejoin="miter" />
<path d="M1817.6,398.8 L1848,398.8 L1848,1472.5" fill="none" stroke="#833026" stroke-width="3.6" stroke-linejoin="miter" />
<path d="M1848,1412.3 L1863,1381.7 L1848,1387.2 L1833,1381.7 Z" fill="#833026" stroke="none"/>
<path d="M1762,568 L1762,510.6 L1557,510.6 L1557,1417" fill="none" stroke="#74377b" stroke-width="3.6" stroke-linejoin="miter" />
<path d="M1508.5,1428 L1508.5,1417 L1605.3,1417 L1605.3,1428" fill="none" stroke="#74377b" stroke-width="3.6" stroke-linejoin="miter" />
<path d="M1521,831.5 L1521,1205.7 L1541,1205.7" fill="none" stroke="#5ba551" stroke-width="3.6" stroke-linejoin="miter" />
<path d="M1571,1205.7 L1927,1205.7" fill="none" stroke="#5ba551" stroke-width="3.6" stroke-linejoin="miter" />
<path d="M1950,1205.7 L2496,1205.7 L2496,1456" fill="none" stroke="#5ba551" stroke-width="3.6" stroke-linejoin="miter" />
<path d="M2332,1532.7 L2416,1532.7" fill="none" stroke="#5ba551" stroke-width="3.6" stroke-linejoin="miter" />
<path d="M1712,829.5 L1712,869 L1836,869" fill="none" stroke="#296b41" stroke-width="3.0" stroke-linejoin="miter" />
<path d="M1853,869 L1910,869" fill="none" stroke="#296b41" stroke-width="3.0" stroke-linejoin="miter" />
<path d="M1943,869 L1994,869 L1994,505.5 L2160,505.5" fill="none" stroke="#296b41" stroke-width="3.0" stroke-linejoin="miter" />
<path d="M2284,505.5 L2526,505.5 L2526,604.5" fill="none" stroke="#296b41" stroke-width="3.0" stroke-linejoin="miter" />
<rect x="2156.7" y="480.8" width="130.1" height="49.6" rx="24.8" ry="24.8" fill="#fff" stroke="#296b41" stroke-width="3.2" />
<text x="2221.75" y="515.546" font-size="31" text-anchor="middle" font-weight="bold" fill="#333333" textLength="83" lengthAdjust="spacingAndGlyphs" >HDBT</text>
<rect x="1493.5" y="1305.5" width="131.5" height="49" rx="24.5" ry="24.5" fill="#fff" stroke="#74377b" stroke-width="3.2" />
<text x="1559.25" y="1339.76" font-size="30.5" text-anchor="middle" font-weight="bold" fill="#333333" textLength="89" lengthAdjust="spacingAndGlyphs" >Audio</text>
<rect x="1782.5" y="1305.5" width="130" height="49" rx="24.5" ry="24.5" fill="#fff" stroke="#833026" stroke-width="3.2" />
<text x="1847.5" y="1339.76" font-size="30.5" text-anchor="middle" font-weight="bold" fill="#333333" textLength="77" lengthAdjust="spacingAndGlyphs" >GPIO</text>
<rect x="1973.5" y="1305.5" width="136" height="51.5" rx="25.75" ry="25.75" fill="#fff" stroke="#a18b85" stroke-width="3.2" />
<text x="2041.5" y="1342.01" font-size="30.5" text-anchor="middle" font-weight="bold" fill="#333333" textLength="101" lengthAdjust="spacingAndGlyphs" >Power</text>
<rect x="2158" y="1305.5" width="130.5" height="49" rx="24.5" ry="24.5" fill="#fff" stroke="#c8353c" stroke-width="3.2" />
<text x="2223.25" y="1339.76" font-size="30.5" text-anchor="middle" font-weight="bold" fill="#333333" textLength="100" lengthAdjust="spacingAndGlyphs" >RS-232</text>
<rect x="2450.5" y="1305.5" width="96.5" height="49" rx="24.5" ry="24.5" fill="#fff" stroke="#5ba551" stroke-width="3.2" />
<text x="2498.75" y="1339.76" font-size="30.5" text-anchor="middle" font-weight="bold" fill="#333333" textLength="49" lengthAdjust="spacingAndGlyphs" >Eth</text>
<text x="1558.5" y="1601.3" font-size="41.5" text-anchor="middle" font-weight="normal" fill="#333333" textLength="183" lengthAdjust="spacingAndGlyphs" >Speakers</text>
<text x="1846" y="1605.3" font-size="41.5" text-anchor="middle" font-weight="normal" fill="#333333" textLength="222" lengthAdjust="spacingAndGlyphs" >Occupancy</text>
<text x="1851" y="1657.3" font-size="41.5" text-anchor="middle" font-weight="normal" fill="#333333" textLength="174" lengthAdjust="spacingAndGlyphs" >Detector</text>
<text x="2026.5" y="1603.8" font-size="41.5" text-anchor="middle" font-weight="normal" fill="#333333" textLength="71" lengthAdjust="spacingAndGlyphs" >20V</text>
<text x="2026.5" y="1655.8" font-size="41.5" text-anchor="middle" font-weight="normal" fill="#333333" textLength="76" lengthAdjust="spacingAndGlyphs" >PSU</text>
<text x="2220" y="1605.3" font-size="41.5" text-anchor="middle" font-weight="normal" fill="#333333" textLength="141" lengthAdjust="spacingAndGlyphs" >KC-VB1</text>
<text x="2497.5" y="1605.3" font-size="41.5" text-anchor="middle" font-weight="normal" fill="#333333" textLength="80" lengthAdjust="spacingAndGlyphs" >LAN</text>
<rect x="2321.4" y="171.6" width="1986.8" height="285.7" rx="46" ry="46" fill="none" stroke="#000" stroke-width="5.9" />
<text x="2631.2" y="235.4" font-size="24" text-anchor="middle" font-weight="normal" fill="#000" textLength="70.5" lengthAdjust="spacingAndGlyphs"  stroke="#000" stroke-width="0.45">SETUP</text>
<text x="2836.5" y="235.4" font-size="24" text-anchor="middle" font-weight="normal" fill="#000" textLength="118" lengthAdjust="spacingAndGlyphs"  stroke="#000" stroke-width="0.45">USB HOST</text>
<text x="2373" y="433.3" font-size="25" text-anchor="start" font-weight="normal" fill="#000" textLength="340" lengthAdjust="spacingAndGlyphs"  stroke="#000" stroke-width="0.45">4K60 HDMI/USB Extender</text>
<text x="3138.3" y="286.2" font-size="40" text-anchor="start" font-weight="normal" fill="#333333" textLength="261" lengthAdjust="spacingAndGlyphs" >Receiver Side</text>
<text x="3500.4" y="269.2" font-size="24" text-anchor="middle" font-weight="bold" fill="#000" textLength="86" lengthAdjust="spacingAndGlyphs"  stroke="#000" stroke-width="0.45">ACTIVE</text>
<path d="M3426,284.5 L3426,273 Q3426,262 3437,262 L3451,262" fill="none" stroke="#000" stroke-width="2.2" />
<path d="M3550,262 L3566,262 Q3577,262 3577,273 L3577,284.5" fill="none" stroke="#000" stroke-width="2.2" />
<text x="3465" y="314.2" font-size="24" text-anchor="middle" font-weight="normal" fill="#000" textLength="63" lengthAdjust="spacingAndGlyphs"  stroke="#000" stroke-width="0.45">HOST</text>
<text x="3549.7" y="314.2" font-size="24" text-anchor="middle" font-weight="normal" fill="#000" textLength="26" lengthAdjust="spacingAndGlyphs"  stroke="#000" stroke-width="0.45">Rx</text>
<text x="3702.8" y="314.2" font-size="24" text-anchor="middle" font-weight="normal" fill="#000" textLength="23" lengthAdjust="spacingAndGlyphs"  stroke="#000" stroke-width="0.45">IN</text>
<text x="3786.4" y="314.2" font-size="24" text-anchor="middle" font-weight="normal" fill="#000" textLength="50" lengthAdjust="spacingAndGlyphs"  stroke="#000" stroke-width="0.45">OUT</text>
<text x="3874" y="285.5" font-size="24" text-anchor="middle" font-weight="normal" fill="#000" textLength="25" lengthAdjust="spacingAndGlyphs"  stroke="#000" stroke-width="0.45">Tx</text>
<text x="3874" y="314.2" font-size="24" text-anchor="middle" font-weight="normal" fill="#000" textLength="67" lengthAdjust="spacingAndGlyphs"  stroke="#000" stroke-width="0.45">LOOP</text>
<text x="3957" y="314.2" font-size="24" text-anchor="middle" font-weight="normal" fill="#000" textLength="52" lengthAdjust="spacingAndGlyphs"  stroke="#000" stroke-width="0.45">LINK</text>
<text x="4110" y="314.2" font-size="24" text-anchor="middle" font-weight="normal" fill="#000" textLength="37" lengthAdjust="spacingAndGlyphs"  stroke="#000" stroke-width="0.45">ON</text>
<circle cx="3467" cy="357.5" r="15.5" fill="none" stroke="#000" stroke-width="2.6"/>
<circle cx="3550.7" cy="357.5" r="15.5" fill="none" stroke="#000" stroke-width="2.6"/>
<circle cx="3706.8" cy="357.5" r="15.5" fill="none" stroke="#000" stroke-width="2.6"/>
<circle cx="3790.4" cy="357.5" r="15.5" fill="none" stroke="#000" stroke-width="2.6"/>
<circle cx="3874" cy="357.5" r="15.5" fill="none" stroke="#000" stroke-width="2.6"/>
<circle cx="3957.6" cy="357.5" r="15.5" fill="none" stroke="#000" stroke-width="2.6"/>
<circle cx="4113.7" cy="357.5" r="15.5" fill="none" stroke="#000" stroke-width="2.6"/>
<text x="4172.3" y="433" font-size="25" text-anchor="middle" font-weight="bold" fill="#000" textLength="161" lengthAdjust="spacingAndGlyphs"  stroke="#000" stroke-width="0.45">EXT3-XR-TR</text>
<rect x="2596" y="280.5" width="69" height="71.8" rx="2" ry="2" fill="none" stroke="#000" stroke-width="3" />
<path d="M2596,288 L2665,288" fill="none" stroke="#000" stroke-width="1.6" stroke-linejoin="miter" />
<path d="M2621,280.5 L2621,288" fill="none" stroke="#000" stroke-width="1.4" stroke-linejoin="miter" />
<path d="M2630,280.5 L2630,288" fill="none" stroke="#000" stroke-width="1.4" stroke-linejoin="miter" />
<rect x="2609" y="290" width="17" height="30" rx="0" ry="0" fill="none" stroke="#000" stroke-width="2.2" />
<path d="M2609,299 L2626,299" fill="none" stroke="#000" stroke-width="1.6" stroke-linejoin="miter" />
<rect x="2634.5" y="290" width="17.5" height="30" rx="0" ry="0" fill="none" stroke="#000" stroke-width="2.2" />
<path d="M2634.5,299 L2652,299" fill="none" stroke="#000" stroke-width="1.6" stroke-linejoin="miter" />
<text x="2618" y="340.5" font-size="22" text-anchor="middle" font-weight="bold" fill="#000"  stroke="#000" stroke-width="0.45">1</text>
<text x="2643.7" y="340.5" font-size="22" text-anchor="middle" font-weight="bold" fill="#000"  stroke="#000" stroke-width="0.45">2</text>
<text x="2604.5" y="339" font-size="13" text-anchor="middle" font-weight="bold" fill="#000"  stroke="#000" stroke-width="0.45">O</text>
<text x="2604.5" y="351" font-size="11" text-anchor="middle" font-weight="bold" fill="#000"  stroke="#000" stroke-width="0.45">N</text>
<path d="M2604,306 L2604,318" fill="none" stroke="#000" stroke-width="2.4" stroke-linejoin="miter" />
<rect x="2773.5" y="247.5" width="129.5" height="113.5" rx="1.5" ry="1.5" fill="none" stroke="#000" stroke-width="4.2" />
<path d="M2793.5,284 L2814.5,263 L2861.5,263 L2882.7,284 L2882.7,343 Q2882.7,345.5 2880,345.5 L2796,345.5 Q2793.5,345.5 2793.5,343 Z" fill="none" stroke="#000" stroke-width="2.4" />
<path d="M2806,286 L2811,286 L2811,280 L2817,280 L2817,284.5 L2859,284.5 L2859,280 L2865,280 L2865,286 L2870,286 L2870,322 L2865,322 L2865,328 L2859,328 L2859,323.5 L2817,323.5 L2817,328 L2811,328 L2811,322 L2806,322 Z" fill="none" stroke="#000" stroke-width="2.2" />
<circle cx="2837.8" cy="305.5" r="5.3" fill="none" stroke="#000" stroke-width="2.2"/>
<rect x="2316" y="563.2" width="1986.8" height="285.8" rx="50" ry="50" fill="none" stroke="#000" stroke-width="5.9" />
<text x="2524" y="817" font-size="24" text-anchor="middle" font-weight="normal" fill="#000" textLength="67" lengthAdjust="spacingAndGlyphs"  stroke="#000" stroke-width="0.45">HDBT</text>
<text x="2731" y="816" font-size="24" text-anchor="middle" font-weight="normal" fill="#000" textLength="57" lengthAdjust="spacingAndGlyphs"  stroke="#000" stroke-width="0.45">Tx IN</text>
<text x="2967.5" y="816" font-size="24" text-anchor="middle" font-weight="normal" fill="#000" textLength="218" lengthAdjust="spacingAndGlyphs"  stroke="#000" stroke-width="0.45">Rx OUT / Tx LOOP</text>
<text x="2850.4" y="633" font-size="25" text-anchor="middle" font-weight="normal" fill="#000" textLength="62" lengthAdjust="spacingAndGlyphs"  stroke="#000" stroke-width="0.45">HDMI</text>
<path d="M2641,664.5 L2641,633 Q2641,622.3 2652,622.3 L2780.7,622.3" fill="none" stroke="#000" stroke-width="2.2" />
<path d="M2921.4,622.3 L3051,622.3 Q3061.8,622.3 3061.8,633 L3061.8,664.5" fill="none" stroke="#000" stroke-width="2.2" />
<text x="3149" y="598.5" font-size="24" text-anchor="middle" font-weight="normal" fill="#000"  stroke="#000" stroke-width="0.45">1</text>
<text x="3285.8" y="598.5" font-size="24" text-anchor="middle" font-weight="normal" fill="#000"  stroke="#000" stroke-width="0.45">2</text>
<text x="3421.9" y="598.5" font-size="24" text-anchor="middle" font-weight="normal" fill="#000"  stroke="#000" stroke-width="0.45">3</text>
<text x="3536.5" y="632.5" font-size="24" text-anchor="middle" font-weight="normal" fill="#000" textLength="21" lengthAdjust="spacingAndGlyphs"  stroke="#000" stroke-width="0.45">IR</text>
<text x="3666" y="632.5" font-size="24" text-anchor="middle" font-weight="normal" fill="#000" textLength="74" lengthAdjust="spacingAndGlyphs"  stroke="#000" stroke-width="0.45">RS-232</text>
<text x="4014" y="632.8" font-size="24" text-anchor="middle" font-weight="normal" fill="#000" textLength="69.5" lengthAdjust="spacingAndGlyphs"  stroke="#000" stroke-width="0.45">SETUP</text>
<text x="4146" y="631.8" font-size="24" text-anchor="middle" font-weight="normal" fill="#000" textLength="77" lengthAdjust="spacingAndGlyphs"  stroke="#000" stroke-width="0.45">12V DC</text>
<text x="3669" y="816.3" font-size="24" text-anchor="middle" font-weight="normal" fill="#000" textLength="93" lengthAdjust="spacingAndGlyphs"  stroke="#000" stroke-width="0.45">G Rx Tx</text>
<text x="3839.5" y="816.6" font-size="24" text-anchor="middle" font-weight="normal" fill="#000" textLength="81" lengthAdjust="spacingAndGlyphs"  stroke="#000" stroke-width="0.45">1G LAN</text>
<text x="3265.8" y="817" font-size="24" text-anchor="middle" font-weight="normal" fill="#000" textLength="135.5" lengthAdjust="spacingAndGlyphs"  stroke="#000" stroke-width="0.45">USB DEVICE</text>
<path d="M3101,770.3 L3101,800 Q3101,810.8 3112,810.8 L3173.8,810.8" fill="none" stroke="#000" stroke-width="2.2" />
<path d="M3402.8,810.5 L3465,810.5 Q3476.1,810.5 3476.1,799.5 L3476.1,770.3" fill="none" stroke="#000" stroke-width="2.2" />
<circle cx="3365" cy="804.8" r="13" fill="none" stroke="#000" stroke-width="2.4"/>
<path d="M3370.26,793.807 L3356.88,807.668 L3363.57,807.668 L3359.74,816.749 L3373.6,800.976 L3366.91,800.976 Z" fill="#000"/>
<circle cx="341.6" cy="663.2" r="8.6" fill="none" stroke="#333" stroke-width="2.4"/>
<path d="M345.078,655.928 L336.225,665.097 L340.651,665.097 L338.122,671.104 L347.291,660.671 L342.865,660.671 Z" fill="#333"/>
<circle cx="331.2" cy="1423.7" r="16.8" fill="none" stroke="#a18b85" stroke-width="2.6"/>
<path d="M335.225,1410.9 L324.875,1424.7 L330.625,1426.14 L326.025,1436.7 L338.675,1419.66 L332.58,1418.7 Z" fill="#a18b85"/>
<path d="M2889.6,711.4 L2838,711.4 L2838,1441" fill="none" stroke="#0ab6e6" stroke-width="3.6" stroke-linejoin="miter" />
<path d="M2838,1413 L2853,1382.4 L2838,1387.9 L2823,1382.4 Z" fill="#0ab6e6" stroke="none"/>
<path d="M3830,723 L3830,834 L2973,834 L2973,1441" fill="none" stroke="#5ba551" stroke-width="3.6" stroke-linejoin="miter" />
<path d="M3183.5,756.5 L3183.5,827.4" fill="none" stroke="#4e628f" stroke-width="3.6" stroke-linejoin="miter" />
<path d="M3184,862.5 L3184.5,1493.7 L3208,1493.7" fill="none" stroke="#4e628f" stroke-width="3.6" stroke-linejoin="miter" />
<path d="M3184.5,1038.4 L3199.5,1069 L3184.5,1063.5 L3169.5,1069 Z" fill="#4e628f" stroke="none"/>
<path d="M3322.5,709.3 L3346,709.3 L3346,826" fill="none" stroke="#4e628f" stroke-width="3.6" stroke-linejoin="miter" />
<path d="M3346,836.9 L3346,844" fill="none" stroke="#4e628f" stroke-width="3.6" stroke-linejoin="miter" />
<path d="M3346,862.5 L3346,887 L3495.5,887 L3495.5,922" fill="none" stroke="#4e628f" stroke-width="3.6" stroke-linejoin="miter" />
<path d="M3495.5,959 L3495.5,1523" fill="none" stroke="#4e628f" stroke-width="3.6" stroke-linejoin="miter" />
<path d="M3495.5,1413 L3510.5,1382.4 L3495.5,1387.9 L3480.5,1382.4 Z" fill="#4e628f" stroke="none"/>
<path d="M3457.8,709.3 L3495.2,709.3 L3495.2,826" fill="none" stroke="#4e628f" stroke-width="3.6" stroke-linejoin="miter" />
<path d="M3495.2,835.5 L3495.2,844" fill="none" stroke="#4e628f" stroke-width="3.6" stroke-linejoin="miter" />
<path d="M3495.2,855 L3495.2,864.8 L3666.4,864.8" fill="none" stroke="#4e628f" stroke-width="3.6" stroke-linejoin="miter" />
<path d="M3693,864.8 L3779,864.8 L3779,1438" fill="none" stroke="#4e628f" stroke-width="3.6" stroke-linejoin="miter" />
<path d="M3779,1038.4 L3794,1069 L3779,1063.5 L3764,1069 Z" fill="#4e628f" stroke="none"/>
<path d="M3684,787.3 L3684,828" fill="none" stroke="#e52e37" stroke-width="3.6" stroke-linejoin="miter" />
<path d="M3684,836.9 L3684,844" fill="none" stroke="#e52e37" stroke-width="3.6" stroke-linejoin="miter" />
<path d="M3684,857.4 L3684,935.5 L3289,935.5 L3289,1491.7" fill="none" stroke="#e52e37" stroke-width="3.6" stroke-linejoin="miter" />
<rect x="2768" y="1305.5" width="130.5" height="49" rx="24.5" ry="24.5" fill="#fff" stroke="#0ab6e6" stroke-width="3.2" />
<text x="2833.25" y="1339.76" font-size="30.5" text-anchor="middle" font-weight="bold" fill="#333333" textLength="84" lengthAdjust="spacingAndGlyphs" >HDMI</text>
<rect x="2922" y="1305.5" width="96.5" height="49" rx="24.5" ry="24.5" fill="#fff" stroke="#5ba551" stroke-width="3.2" />
<text x="2970.25" y="1339.76" font-size="30.5" text-anchor="middle" font-weight="bold" fill="#333333" textLength="49" lengthAdjust="spacingAndGlyphs" >Eth</text>
<rect x="3129" y="1305.5" width="106" height="49" rx="24.5" ry="24.5" fill="#fff" stroke="#4e628f" stroke-width="3.2" />
<text x="3182" y="1339.76" font-size="30.5" text-anchor="middle" font-weight="bold" fill="#333333" textLength="60" lengthAdjust="spacingAndGlyphs" >USB</text>
<rect x="3422" y="1305.5" width="106.5" height="49" rx="24.5" ry="24.5" fill="#fff" stroke="#4e628f" stroke-width="3.2" />
<text x="3475.25" y="1339.76" font-size="30.5" text-anchor="middle" font-weight="bold" fill="#333333" textLength="60" lengthAdjust="spacingAndGlyphs" >USB</text>
<rect x="3726" y="1305.5" width="106.5" height="49" rx="24.5" ry="24.5" fill="#fff" stroke="#4e628f" stroke-width="3.2" />
<text x="3779.25" y="1339.76" font-size="30.5" text-anchor="middle" font-weight="bold" fill="#333333" textLength="60" lengthAdjust="spacingAndGlyphs" >USB</text>
<rect x="3222" y="1111.5" width="130.5" height="49.5" rx="24.75" ry="24.75" fill="#fff" stroke="#e52e37" stroke-width="3.2" />
<text x="3287.25" y="1146.01" font-size="30.5" text-anchor="middle" font-weight="bold" fill="#333333" textLength="100" lengthAdjust="spacingAndGlyphs" >RS-232</text>
<text x="2909.5" y="1605.3" font-size="41.5" text-anchor="middle" font-weight="normal" fill="#333333" textLength="183" lengthAdjust="spacingAndGlyphs" >Smart TV</text>
<text x="3248" y="1605.3" font-size="41.5" text-anchor="middle" font-weight="normal" fill="#333333" textLength="73" lengthAdjust="spacingAndGlyphs" >PTZ</text>
<text x="3248" y="1658.8" font-size="41.5" text-anchor="middle" font-weight="normal" fill="#333333" textLength="157" lengthAdjust="spacingAndGlyphs" >Camera</text>
<text x="3486.5" y="1607.3" font-size="41.5" text-anchor="middle" font-weight="normal" fill="#333333" textLength="198" lengthAdjust="spacingAndGlyphs" >Soundbar</text>
<text x="3779" y="1605.3" font-size="41.5" text-anchor="middle" font-weight="normal" fill="#333333" textLength="122" lengthAdjust="spacingAndGlyphs" >Smart</text>
<text x="3779" y="1658.8" font-size="41.5" text-anchor="middle" font-weight="normal" fill="#333333" textLength="122" lengthAdjust="spacingAndGlyphs" >Board</text>
<circle cx="85.0571" cy="737.303" r="21.2695" fill="#343233" stroke="none" stroke-width="0"/>
<circle cx="73.2037" cy="748.491" r="21.3803" fill="#343233" stroke="none" stroke-width="0"/>
<circle cx="88.1589" cy="755.581" r="21.3803" fill="#343233" stroke="none" stroke-width="0"/>
<path d="M71.54,737.08 Q84.84,734.87 95.58,742.07 Q92.04,754.25 77.08,760.23 Q68.22,749.82 71.54,737.08 Z" fill="#fff" stroke="none"/>
<path d="M78.52,727.33 Q88.71,722.68 94.81,732.10 Q87.05,727.11 78.52,727.33 Z" fill="#fff" stroke="none"/>
<path d="M63.23,745.06 Q59.02,752.59 66.89,759.57 Q63.23,752.59 63.23,745.06 Z" fill="#fff" stroke="none"/>
<path d="M84.06,766.44 Q99.24,769.21 100.23,754.03 Q94.81,762.56 84.06,766.44 Z" fill="#fff" stroke="none"/>
<rect x="282.1" y="628.2" width="32.6" height="74.5" rx="16.3" ry="16.3" fill="#000" stroke="none" stroke-width="0" />
<rect x="290.7" y="636.8" width="15.4" height="57.3" rx="7.6" ry="7.6" fill="#fff" stroke="none" stroke-width="0" />
<rect x="293.4" y="639.8" width="10" height="51.3" rx="5" ry="5" fill="#1c1c1c" stroke="none" stroke-width="0" />
<path d="M296.8,644.2 L296.8,686.7" fill="none" stroke="#777" stroke-width="0.7" stroke-linejoin="miter" />
<path d="M300,644.2 L300,686.7" fill="none" stroke="#777" stroke-width="0.7" stroke-linejoin="miter" />
<rect x="473.3" y="628.2" width="32.6" height="74.5" rx="16.3" ry="16.3" fill="#000" stroke="none" stroke-width="0" />
<rect x="481.9" y="636.8" width="15.4" height="57.3" rx="7.6" ry="7.6" fill="#fff" stroke="none" stroke-width="0" />
<rect x="484.6" y="639.8" width="10" height="51.3" rx="5" ry="5" fill="#1c1c1c" stroke="none" stroke-width="0" />
<path d="M488,644.2 L488,686.7" fill="none" stroke="#777" stroke-width="0.7" stroke-linejoin="miter" />
<path d="M491.2,644.2 L491.2,686.7" fill="none" stroke="#777" stroke-width="0.7" stroke-linejoin="miter" />
<path d="M377.10,611.32 L377.51,610.03 L378.75,609.60 L409.71,609.60 L411.08,610.03 L411.77,611.61 L413.15,618.49 L414.25,621.07 L415.90,622.50 L420.02,625.65 L421.12,626.80 L421.40,628.52 L421.40,703.48 L421.12,705.20 L420.02,706.35 L415.90,709.50 L414.25,710.93 L413.15,713.51 L411.77,720.39 L411.08,721.97 L409.71,722.40 L378.75,722.40 L377.51,721.97 L377.10,720.68 Z" fill="#fff" stroke="#000" stroke-width="3.2" stroke-linejoin="round" stroke-linecap="round"/>
<path d="M381.23,616.77 L381.78,614.62 L383.98,613.61 L402.96,613.61 L404.07,616.05 L404.89,619.92 L406.27,623.22 L409.02,625.65 L415.07,629.95 L415.07,702.05 L409.02,706.35 L406.27,708.78 L404.89,712.08 L404.07,715.95 L402.96,718.39 L383.98,718.39 L381.78,717.38 L381.23,715.23 Z" fill="none" stroke="#000" stroke-width="3.2" stroke-linejoin="round" stroke-linecap="round"/>
<path d="M379.16,612.75 L379.16,719.25" fill="none" stroke="#000" stroke-width="1.6" stroke-linejoin="round" stroke-linecap="round"/>
<path d="M380.13,615.33 L380.13,716.67" fill="none" stroke="#fff" stroke-width="0.7" stroke-linejoin="round" stroke-linecap="round"/>
<rect x="395.398" y="626.513" width="7.9795" height="78.1144" rx="3.98975" ry="3.98975" fill="#fff" stroke="#000" stroke-width="3.2" />
<path d="M399.388,631.099 L399.388,699.897" fill="none" stroke="#000" stroke-width="1.2" stroke-linejoin="miter" />
<circle cx="393.609" cy="665.928" r="1.4" fill="none" stroke="#000" stroke-width="1"/>
<rect x="383.429" y="637.119" width="4.9528" height="8.59975" rx="0" ry="0" fill="#222" stroke="#000" stroke-width="2" />
<rect x="383.429" y="686.568" width="4.9528" height="7.8831" rx="0" ry="0" fill="#222" stroke="#000" stroke-width="2" />
<rect x="410.807" y="643.569" width="4.81522" height="7.8831" rx="0" ry="0" fill="#222" stroke="#000" stroke-width="2" />
<rect x="410.807" y="680.118" width="4.81522" height="7.8831" rx="0" ry="0" fill="#222" stroke="#000" stroke-width="2" />
<path d="M755.90,610.82 L756.31,609.53 L757.55,609.10 L788.51,609.10 L789.88,609.53 L790.57,611.11 L791.95,617.99 L793.05,620.57 L794.70,622.00 L798.82,625.15 L799.92,626.30 L800.20,628.02 L800.20,702.98 L799.92,704.70 L798.82,705.85 L794.70,709.00 L793.05,710.43 L791.95,713.01 L790.57,719.89 L789.88,721.47 L788.51,721.90 L757.55,721.90 L756.31,721.47 L755.90,720.18 Z" fill="#fff" stroke="#000" stroke-width="3.2" stroke-linejoin="round" stroke-linecap="round"/>
<path d="M760.03,616.27 L760.58,614.12 L762.78,613.11 L781.76,613.11 L782.87,615.55 L783.69,619.42 L785.07,622.72 L787.82,625.15 L793.87,629.45 L793.87,701.55 L787.82,705.85 L785.07,708.28 L783.69,711.58 L782.87,715.45 L781.76,717.89 L762.78,717.89 L760.58,716.88 L760.03,714.73 Z" fill="none" stroke="#000" stroke-width="3.2" stroke-linejoin="round" stroke-linecap="round"/>
<path d="M757.96,612.25 L757.96,718.75" fill="none" stroke="#000" stroke-width="1.6" stroke-linejoin="round" stroke-linecap="round"/>
<path d="M758.93,614.83 L758.93,716.17" fill="none" stroke="#fff" stroke-width="0.7" stroke-linejoin="round" stroke-linecap="round"/>
<rect x="774.198" y="626.013" width="7.9795" height="78.1144" rx="3.98975" ry="3.98975" fill="#fff" stroke="#000" stroke-width="3.2" />
<path d="M778.188,630.599 L778.188,699.397" fill="none" stroke="#000" stroke-width="1.2" stroke-linejoin="miter" />
<circle cx="772.409" cy="665.428" r="1.4" fill="none" stroke="#000" stroke-width="1"/>
<rect x="762.229" y="636.619" width="4.9528" height="8.59975" rx="0" ry="0" fill="#222" stroke="#000" stroke-width="2" />
<rect x="762.229" y="686.068" width="4.9528" height="7.8831" rx="0" ry="0" fill="#222" stroke="#000" stroke-width="2" />
<rect x="789.607" y="643.069" width="4.81522" height="7.8831" rx="0" ry="0" fill="#222" stroke="#000" stroke-width="2" />
<rect x="789.607" y="679.618" width="4.81522" height="7.8831" rx="0" ry="0" fill="#222" stroke="#000" stroke-width="2" />
<rect x="565" y="616" width="45.8" height="99.6" rx="8.37204" ry="8.37204" fill="#fff" stroke="#000" stroke-width="3.6" />
<rect x="568.152" y="619.152" width="39.4963" height="93.2963" rx="5.4172" ry="5.4172" fill="none" stroke="#000" stroke-width="1.2804301075268816" />
<rect x="575.834" y="626.145" width="13.7892" height="79.3101" rx="1.96989" ry="1.96989" fill="none" stroke="#000" stroke-width="2.0683870967741935" />
<rect x="578.789" y="630.282" width="7.48559" height="71.0366" rx="0" ry="0" fill="none" stroke="#000" stroke-width="1.1819354838709677" />
<rect x="590.116" y="638.862" width="4.13677" height="5.96407" rx="1.47742" ry="1.47742" fill="none" stroke="#000" stroke-width="1.4774193548387096" />
<rect x="590.116" y="656.754" width="4.13677" height="5.96407" rx="1.47742" ry="1.47742" fill="none" stroke="#000" stroke-width="1.4774193548387096" />
<rect x="590.116" y="670.671" width="4.13677" height="5.96407" rx="1.47742" ry="1.47742" fill="none" stroke="#000" stroke-width="1.4774193548387096" />
<rect x="590.116" y="689.557" width="4.13677" height="5.96407" rx="1.47742" ry="1.47742" fill="none" stroke="#000" stroke-width="1.4774193548387096" />
<path d="M607.65,639.86 L602.92,639.86 L602.92,649.80 L607.65,649.80" fill="none" stroke="#000" stroke-width="1.7729032258064514" stroke-linejoin="round" stroke-linecap="round"/>
<path d="M606.86,641.844 L606.86,647.808" fill="none" stroke="#000" stroke-width="1.1819354838709677" stroke-linejoin="miter" />
<path d="M607.65,683.59 L602.92,683.59 L602.92,693.53 L607.65,693.53" fill="none" stroke="#000" stroke-width="1.7729032258064514" stroke-linejoin="round" stroke-linecap="round"/>
<path d="M606.86,685.581 L606.86,691.545" fill="none" stroke="#000" stroke-width="1.1819354838709677" stroke-linejoin="miter" />
<path d="M568.15,642.84 L572.88,642.84 L572.88,649.80 L568.15,649.80" fill="none" stroke="#000" stroke-width="1.5759139784946237" stroke-linejoin="round" stroke-linecap="round"/>
<path d="M568.15,685.58 L572.88,685.58 L572.88,692.54 L568.15,692.54" fill="none" stroke="#000" stroke-width="1.5759139784946237" stroke-linejoin="round" stroke-linecap="round"/>
<path d="M572.88,627.928 L572.88,706.455" fill="none" stroke="#000" stroke-width="1.0834408602150538" stroke-linejoin="miter" />
<path d="M582.73,619.15 L585.68,624.37 L594.55,624.37 L597.50,619.15" fill="none" stroke="#000" stroke-width="1.4774193548387096" stroke-linejoin="round" stroke-linecap="round"/>
<path d="M582.73,712.45 L585.68,707.23 L594.55,707.23 L597.50,712.45" fill="none" stroke="#000" stroke-width="1.4774193548387096" stroke-linejoin="round" stroke-linecap="round"/>
<rect x="643.3" y="615.4" width="45.4" height="100" rx="8.29892" ry="8.29892" fill="#fff" stroke="#000" stroke-width="3.6" />
<rect x="646.424" y="618.524" width="39.1514" height="93.7514" rx="5.36989" ry="5.36989" fill="none" stroke="#000" stroke-width="1.269247311827957" />
<rect x="654.04" y="625.456" width="13.6688" height="79.8873" rx="1.95269" ry="1.95269" fill="none" stroke="#000" stroke-width="2.0503225806451613" />
<rect x="656.969" y="629.557" width="7.42022" height="71.686" rx="0" ry="0" fill="none" stroke="#000" stroke-width="1.1716129032258065" />
<rect x="668.197" y="638.354" width="4.10065" height="5.98802" rx="1.46452" ry="1.46452" fill="none" stroke="#000" stroke-width="1.464516129032258" />
<rect x="668.197" y="656.318" width="4.10065" height="5.98802" rx="1.46452" ry="1.46452" fill="none" stroke="#000" stroke-width="1.464516129032258" />
<rect x="668.197" y="670.29" width="4.10065" height="5.98802" rx="1.46452" ry="1.46452" fill="none" stroke="#000" stroke-width="1.464516129032258" />
<rect x="668.197" y="689.252" width="4.10065" height="5.98802" rx="1.46452" ry="1.46452" fill="none" stroke="#000" stroke-width="1.464516129032258" />
<path d="M685.58,639.35 L680.89,639.35 L680.89,649.33 L685.58,649.33" fill="none" stroke="#000" stroke-width="1.7574193548387096" stroke-linejoin="round" stroke-linecap="round"/>
<path d="M684.795,641.348 L684.795,647.336" fill="none" stroke="#000" stroke-width="1.1716129032258065" stroke-linejoin="miter" />
<path d="M685.58,683.26 L680.89,683.26 L680.89,693.24 L685.58,693.24" fill="none" stroke="#000" stroke-width="1.7574193548387096" stroke-linejoin="round" stroke-linecap="round"/>
<path d="M684.795,685.26 L684.795,691.248" fill="none" stroke="#000" stroke-width="1.1716129032258065" stroke-linejoin="miter" />
<path d="M646.42,642.35 L651.11,642.35 L651.11,649.33 L646.42,649.33" fill="none" stroke="#000" stroke-width="1.5621505376344087" stroke-linejoin="round" stroke-linecap="round"/>
<path d="M646.42,685.26 L651.11,685.26 L651.11,692.25 L646.42,692.25" fill="none" stroke="#000" stroke-width="1.5621505376344087" stroke-linejoin="round" stroke-linecap="round"/>
<path d="M651.111,627.376 L651.111,706.218" fill="none" stroke="#000" stroke-width="1.073978494623656" stroke-linejoin="miter" />
<path d="M660.87,618.52 L663.80,623.70 L672.59,623.70 L675.52,618.52" fill="none" stroke="#000" stroke-width="1.464516129032258" stroke-linejoin="round" stroke-linecap="round"/>
<path d="M660.87,712.28 L663.80,707.10 L672.59,707.10 L675.52,712.28" fill="none" stroke="#000" stroke-width="1.464516129032258" stroke-linejoin="round" stroke-linecap="round"/>
<rect x="3117.8" y="608.9" width="67.4" height="145.8" rx="12.3204" ry="12.3204" fill="#fff" stroke="#000" stroke-width="3.2" />
<rect x="3122.44" y="613.538" width="58.1234" height="136.523" rx="7.97204" ry="7.97204" fill="none" stroke="#000" stroke-width="1.884301075268817" />
<rect x="3133.74" y="623.829" width="20.2925" height="115.941" rx="2.89892" ry="2.89892" fill="none" stroke="#000" stroke-width="3.043870967741935" />
<rect x="3138.09" y="629.917" width="11.0159" height="103.766" rx="0" ry="0" fill="none" stroke="#000" stroke-width="1.739354838709677" />
<rect x="3154.76" y="642.367" width="6.08774" height="8.73054" rx="2.17419" ry="2.17419" fill="none" stroke="#000" stroke-width="2.1741935483870964" />
<rect x="3154.76" y="668.559" width="6.08774" height="8.73054" rx="2.17419" ry="2.17419" fill="none" stroke="#000" stroke-width="2.1741935483870964" />
<rect x="3154.76" y="688.93" width="6.08774" height="8.73054" rx="2.17419" ry="2.17419" fill="none" stroke="#000" stroke-width="2.1741935483870964" />
<rect x="3154.76" y="716.577" width="6.08774" height="8.73054" rx="2.17419" ry="2.17419" fill="none" stroke="#000" stroke-width="2.1741935483870964" />
<path d="M3180.56,643.82 L3173.60,643.82 L3173.60,658.37 L3180.56,658.37" fill="none" stroke="#000" stroke-width="2.609032258064516" stroke-linejoin="round" stroke-linecap="round"/>
<path d="M3179.4,646.732 L3179.4,655.463" fill="none" stroke="#000" stroke-width="1.739354838709677" stroke-linejoin="miter" />
<path d="M3180.56,707.85 L3173.60,707.85 L3173.60,722.40 L3180.56,722.40" fill="none" stroke="#000" stroke-width="2.609032258064516" stroke-linejoin="round" stroke-linecap="round"/>
<path d="M3179.4,710.756 L3179.4,719.487" fill="none" stroke="#000" stroke-width="1.739354838709677" stroke-linejoin="miter" />
<path d="M3122.44,648.19 L3129.40,648.19 L3129.40,658.37 L3122.44,658.37" fill="none" stroke="#000" stroke-width="2.3191397849462363" stroke-linejoin="round" stroke-linecap="round"/>
<path d="M3122.44,710.76 L3129.40,710.76 L3129.40,720.94 L3122.44,720.94" fill="none" stroke="#000" stroke-width="2.3191397849462363" stroke-linejoin="round" stroke-linecap="round"/>
<path d="M3129.4,626.361 L3129.4,741.313" fill="none" stroke="#000" stroke-width="1.5944086021505375" stroke-linejoin="miter" />
<path d="M3143.89,613.54 L3148.24,621.22 L3161.28,621.22 L3165.63,613.54" fill="none" stroke="#000" stroke-width="2.1741935483870964" stroke-linejoin="round" stroke-linecap="round"/>
<path d="M3143.89,750.06 L3148.24,742.38 L3161.28,742.38 L3165.63,750.06" fill="none" stroke="#000" stroke-width="2.1741935483870964" stroke-linejoin="round" stroke-linecap="round"/>
<rect x="3253.8" y="608.9" width="67.4" height="145.8" rx="12.3204" ry="12.3204" fill="#fff" stroke="#000" stroke-width="3.2" />
<rect x="3258.44" y="613.538" width="58.1234" height="136.523" rx="7.97204" ry="7.97204" fill="none" stroke="#000" stroke-width="1.884301075268817" />
<rect x="3269.74" y="623.829" width="20.2925" height="115.941" rx="2.89892" ry="2.89892" fill="none" stroke="#000" stroke-width="3.043870967741935" />
<rect x="3274.09" y="629.917" width="11.0159" height="103.766" rx="0" ry="0" fill="none" stroke="#000" stroke-width="1.739354838709677" />
<rect x="3290.76" y="642.367" width="6.08774" height="8.73054" rx="2.17419" ry="2.17419" fill="none" stroke="#000" stroke-width="2.1741935483870964" />
<rect x="3290.76" y="668.559" width="6.08774" height="8.73054" rx="2.17419" ry="2.17419" fill="none" stroke="#000" stroke-width="2.1741935483870964" />
<rect x="3290.76" y="688.93" width="6.08774" height="8.73054" rx="2.17419" ry="2.17419" fill="none" stroke="#000" stroke-width="2.1741935483870964" />
<rect x="3290.76" y="716.577" width="6.08774" height="8.73054" rx="2.17419" ry="2.17419" fill="none" stroke="#000" stroke-width="2.1741935483870964" />
<path d="M3316.56,643.82 L3309.60,643.82 L3309.60,658.37 L3316.56,658.37" fill="none" stroke="#000" stroke-width="2.609032258064516" stroke-linejoin="round" stroke-linecap="round"/>
<path d="M3315.4,646.732 L3315.4,655.463" fill="none" stroke="#000" stroke-width="1.739354838709677" stroke-linejoin="miter" />
<path d="M3316.56,707.85 L3309.60,707.85 L3309.60,722.40 L3316.56,722.40" fill="none" stroke="#000" stroke-width="2.609032258064516" stroke-linejoin="round" stroke-linecap="round"/>
<path d="M3315.4,710.756 L3315.4,719.487" fill="none" stroke="#000" stroke-width="1.739354838709677" stroke-linejoin="miter" />
<path d="M3258.44,648.19 L3265.40,648.19 L3265.40,658.37 L3258.44,658.37" fill="none" stroke="#000" stroke-width="2.3191397849462363" stroke-linejoin="round" stroke-linecap="round"/>
<path d="M3258.44,710.76 L3265.40,710.76 L3265.40,720.94 L3258.44,720.94" fill="none" stroke="#000" stroke-width="2.3191397849462363" stroke-linejoin="round" stroke-linecap="round"/>
<path d="M3265.4,626.361 L3265.4,741.313" fill="none" stroke="#000" stroke-width="1.5944086021505375" stroke-linejoin="miter" />
<path d="M3279.89,613.54 L3284.24,621.22 L3297.28,621.22 L3301.63,613.54" fill="none" stroke="#000" stroke-width="2.1741935483870964" stroke-linejoin="round" stroke-linecap="round"/>
<path d="M3279.89,750.06 L3284.24,742.38 L3297.28,742.38 L3301.63,750.06" fill="none" stroke="#000" stroke-width="2.1741935483870964" stroke-linejoin="round" stroke-linecap="round"/>
<rect x="3389.4" y="608.9" width="67.4" height="145.8" rx="12.3204" ry="12.3204" fill="#fff" stroke="#000" stroke-width="3.2" />
<rect x="3394.04" y="613.538" width="58.1234" height="136.523" rx="7.97204" ry="7.97204" fill="none" stroke="#000" stroke-width="1.884301075268817" />
<rect x="3405.34" y="623.829" width="20.2925" height="115.941" rx="2.89892" ry="2.89892" fill="none" stroke="#000" stroke-width="3.043870967741935" />
<rect x="3409.69" y="629.917" width="11.0159" height="103.766" rx="0" ry="0" fill="none" stroke="#000" stroke-width="1.739354838709677" />
<rect x="3426.36" y="642.367" width="6.08774" height="8.73054" rx="2.17419" ry="2.17419" fill="none" stroke="#000" stroke-width="2.1741935483870964" />
<rect x="3426.36" y="668.559" width="6.08774" height="8.73054" rx="2.17419" ry="2.17419" fill="none" stroke="#000" stroke-width="2.1741935483870964" />
<rect x="3426.36" y="688.93" width="6.08774" height="8.73054" rx="2.17419" ry="2.17419" fill="none" stroke="#000" stroke-width="2.1741935483870964" />
<rect x="3426.36" y="716.577" width="6.08774" height="8.73054" rx="2.17419" ry="2.17419" fill="none" stroke="#000" stroke-width="2.1741935483870964" />
<path d="M3452.16,643.82 L3445.20,643.82 L3445.20,658.37 L3452.16,658.37" fill="none" stroke="#000" stroke-width="2.609032258064516" stroke-linejoin="round" stroke-linecap="round"/>
<path d="M3451,646.732 L3451,655.463" fill="none" stroke="#000" stroke-width="1.739354838709677" stroke-linejoin="miter" />
<path d="M3452.16,707.85 L3445.20,707.85 L3445.20,722.40 L3452.16,722.40" fill="none" stroke="#000" stroke-width="2.609032258064516" stroke-linejoin="round" stroke-linecap="round"/>
<path d="M3451,710.756 L3451,719.487" fill="none" stroke="#000" stroke-width="1.739354838709677" stroke-linejoin="miter" />
<path d="M3394.04,648.19 L3401.00,648.19 L3401.00,658.37 L3394.04,658.37" fill="none" stroke="#000" stroke-width="2.3191397849462363" stroke-linejoin="round" stroke-linecap="round"/>
<path d="M3394.04,710.76 L3401.00,710.76 L3401.00,720.94 L3394.04,720.94" fill="none" stroke="#000" stroke-width="2.3191397849462363" stroke-linejoin="round" stroke-linecap="round"/>
<path d="M3401,626.361 L3401,741.313" fill="none" stroke="#000" stroke-width="1.5944086021505375" stroke-linejoin="miter" />
<path d="M3415.49,613.54 L3419.84,621.22 L3432.88,621.22 L3437.23,613.54" fill="none" stroke="#000" stroke-width="2.1741935483870964" stroke-linejoin="round" stroke-linecap="round"/>
<path d="M3415.49,750.06 L3419.84,742.38 L3432.88,742.38 L3437.23,750.06" fill="none" stroke="#000" stroke-width="2.1741935483870964" stroke-linejoin="round" stroke-linecap="round"/>
<rect x="2437.1" y="604.2" width="176.949" height="151.328" rx="1.5" ry="1.5" fill="#fff" stroke="#000" stroke-width="2.6" />
<rect x="2435.9" y="603" width="179.349" height="9.22367" rx="0" ry="0" fill="#000" stroke="none" stroke-width="0" />
<path d="M2438.46,606.587 L2612.69,606.587" fill="none" stroke="#fff" stroke-width="1.1" stroke-linejoin="miter" />
<rect x="2435.9" y="745.455" width="179.349" height="11.2734" rx="0" ry="0" fill="#000" stroke="none" stroke-width="0" />
<path d="M2437.44,748.017 L2613.71,748.017" fill="none" stroke="#fff" stroke-width="1" stroke-linejoin="miter" />
<path d="M2442.05,611.199 L2442.05,746.479" fill="none" stroke="#000" stroke-width="2" stroke-linejoin="miter" />
<path d="M2445.38,611.199 L2445.38,746.479" fill="none" stroke="#000" stroke-width="2.4" stroke-linejoin="miter" />
<path d="M2605.77,611.199 L2605.77,746.479" fill="none" stroke="#000" stroke-width="2.4" stroke-linejoin="miter" />
<path d="M2609.1,611.199 L2609.1,746.479" fill="none" stroke="#000" stroke-width="2" stroke-linejoin="miter" />
<path d="M2457.93,641.43 L2493.04,641.43 L2493.04,613.25 L2558.37,613.25 L2558.37,641.43 L2592.19,641.43 L2592.19,725.98 L2457.93,725.98 Z" fill="none" stroke="#000" stroke-width="3.8" stroke-linejoin="miter" stroke-linecap="round"/>
<path d="M2497.39,629.90 L2502.00,629.90 L2502.00,618.37 L2549.40,618.37 L2549.40,629.90 L2554.01,629.90" fill="none" stroke="#000" stroke-width="2.6" stroke-linejoin="miter" stroke-linecap="round"/>
<path d="M2493.04,633.23 L2497.90,633.23 L2497.90,626.57" fill="none" stroke="#000" stroke-width="1.8" stroke-linejoin="round" stroke-linecap="round"/>
<path d="M2558.37,633.23 L2553.50,633.23 L2553.50,626.57" fill="none" stroke="#000" stroke-width="1.8" stroke-linejoin="round" stroke-linecap="round"/>
<path d="M2461.52,661.929 L2588.6,661.929" fill="none" stroke="#000" stroke-width="2.6" stroke-linejoin="miter" />
<path d="M2464.08,646.04 L2484.58,646.04 L2484.58,661.93" fill="none" stroke="#000" stroke-width="2.2" stroke-linejoin="round" stroke-linecap="round"/>
<path d="M2587.07,646.04 L2566.57,646.04 L2566.57,661.93" fill="none" stroke="#000" stroke-width="2.2" stroke-linejoin="round" stroke-linecap="round"/>
<path d="M2464.08,652.193 L2484.58,652.193" fill="none" stroke="#000" stroke-width="1.6" stroke-linejoin="miter" />
<path d="M2566.57,652.193 L2587.07,652.193" fill="none" stroke="#000" stroke-width="1.6" stroke-linejoin="miter" />
<path d="M2464.08,646.044 L2464.08,719.577" fill="none" stroke="#000" stroke-width="2.6" stroke-linejoin="miter" />
<path d="M2587.07,646.044 L2587.07,719.577" fill="none" stroke="#000" stroke-width="2.6" stroke-linejoin="miter" />
<circle cx="2525.06" cy="669.103" r="3" fill="none" stroke="#000" stroke-width="1.8"/>
<rect x="2461.52" y="674.74" width="7.17397" height="17.9349" rx="0" ry="0" fill="none" stroke="#000" stroke-width="1.8" />
<rect x="2582.45" y="674.74" width="7.17397" height="17.9349" rx="0" ry="0" fill="none" stroke="#000" stroke-width="1.8" />
<circle cx="2457.42" cy="671.665" r="2.4" fill="none" stroke="#000" stroke-width="1.8"/>
<circle cx="2457.42" cy="696.518" r="2.4" fill="none" stroke="#000" stroke-width="1.8"/>
<circle cx="2593.73" cy="671.665" r="2.4" fill="none" stroke="#000" stroke-width="1.8"/>
<circle cx="2593.73" cy="696.518" r="2.4" fill="none" stroke="#000" stroke-width="1.8"/>
<rect x="2472.54" y="692.675" width="7.6864" height="26.9024" rx="0" ry="0" fill="none" stroke="#000" stroke-width="2.2" />
<rect x="2571.18" y="692.675" width="7.6864" height="26.9024" rx="0" ry="0" fill="none" stroke="#000" stroke-width="2.2" />
<rect x="2484.07" y="700.361" width="2.81834" height="19.216" rx="0" ry="0" fill="#000" stroke="none" stroke-width="0" />
<rect x="2489.14" y="700.361" width="2.81834" height="19.216" rx="0" ry="0" fill="#000" stroke="none" stroke-width="0" />
<rect x="2494.21" y="700.361" width="2.81834" height="19.216" rx="0" ry="0" fill="#000" stroke="none" stroke-width="0" />
<rect x="2499.29" y="700.361" width="2.81834" height="19.216" rx="0" ry="0" fill="#000" stroke="none" stroke-width="0" />
<rect x="2504.36" y="700.361" width="2.81834" height="19.216" rx="0" ry="0" fill="#000" stroke="none" stroke-width="0" />
<rect x="2509.43" y="700.361" width="2.81834" height="19.216" rx="0" ry="0" fill="#000" stroke="none" stroke-width="0" />
<rect x="2514.51" y="700.361" width="2.81834" height="19.216" rx="0" ry="0" fill="#000" stroke="none" stroke-width="0" />
<rect x="2519.58" y="700.361" width="2.81834" height="19.216" rx="0" ry="0" fill="#000" stroke="none" stroke-width="0" />
<rect x="2524.65" y="700.361" width="2.81834" height="19.216" rx="0" ry="0" fill="#000" stroke="none" stroke-width="0" />
<rect x="2529.73" y="700.361" width="2.81834" height="19.216" rx="0" ry="0" fill="#000" stroke="none" stroke-width="0" />
<rect x="2534.8" y="700.361" width="2.81834" height="19.216" rx="0" ry="0" fill="#000" stroke="none" stroke-width="0" />
<rect x="2539.87" y="700.361" width="2.81834" height="19.216" rx="0" ry="0" fill="#000" stroke="none" stroke-width="0" />
<rect x="2544.94" y="700.361" width="2.81834" height="19.216" rx="0" ry="0" fill="#000" stroke="none" stroke-width="0" />
<rect x="2550.02" y="700.361" width="2.81834" height="19.216" rx="0" ry="0" fill="#000" stroke="none" stroke-width="0" />
<rect x="2555.09" y="700.361" width="2.81834" height="19.216" rx="0" ry="0" fill="#000" stroke="none" stroke-width="0" />
<rect x="2560.16" y="700.361" width="2.81834" height="19.216" rx="0" ry="0" fill="#000" stroke="none" stroke-width="0" />
<rect x="2565.24" y="700.361" width="2.81834" height="19.216" rx="0" ry="0" fill="#000" stroke="none" stroke-width="0" />
<rect x="2461.52" y="718.808" width="128.107" height="7.17397" rx="0" ry="0" fill="#000" stroke="#000" stroke-width="1.5" />
<path d="M2464.08,721.883 L2587.07,721.883" fill="none" stroke="#fff" stroke-width="0.8" stroke-linejoin="miter" />
<path d="M2708.9,687 L2708.9,662.453 A21.6 21.6 0 0 1 2752.1,662.453 L2752.1,687" fill="#fff" stroke="#000" stroke-width="3" />
<circle cx="2730.5" cy="662.453" r="13.2" fill="none" stroke="#000" stroke-width="2.6"/>
<path d="M2730.50,652.85 L2733.26,659.70 L2740.10,662.45 L2733.26,665.21 L2730.50,672.05 L2727.74,665.21 L2720.90,662.45 L2727.74,659.70 Z" fill="none" stroke="#000" stroke-width="2.2" stroke-linejoin="round"/>
<circle cx="2730.5" cy="652.853" r="2.1" fill="#000" stroke="none" stroke-width="0"/>
<circle cx="2740.1" cy="662.453" r="2.1" fill="#000" stroke="none" stroke-width="0"/>
<circle cx="2730.5" cy="672.053" r="2.1" fill="#000" stroke="none" stroke-width="0"/>
<circle cx="2720.9" cy="662.453" r="2.1" fill="#000" stroke="none" stroke-width="0"/>
<path d="M2649.55,685.00 L2811.48,685.00 L2813.27,687.05 L2813.27,732.40 L2790.98,750.33 L2670.56,750.33 L2647.50,732.40 L2647.50,687.05 Z" fill="#fff" stroke="#000" stroke-width="3" stroke-linejoin="round" stroke-linecap="round"/>
<path d="M2655.19,690.64 L2661.59,688.07 L2798.67,688.07 L2806.35,690.64 L2809.43,696.53 L2809.43,727.28 L2803.79,733.17 L2793.54,737.52 L2783.29,746.49 L2676.96,746.49 L2666.72,737.52 L2656.47,733.17 L2651.09,727.28 L2651.09,696.53 Z" fill="none" stroke="#000" stroke-width="3.8" stroke-linejoin="round" stroke-linecap="round"/>
<path d="M2662.87,692.69 L2797.38,692.69 L2802.51,697.81 L2802.51,723.43 L2796.10,728.56 L2787.14,732.40 L2778.17,741.88 L2682.09,741.88 L2673.12,732.40 L2664.15,728.56 L2657.75,723.43 L2657.75,697.81 Z" fill="none" stroke="#000" stroke-width="2.8" stroke-linejoin="round" stroke-linecap="round"/>
<rect x="2693.11" y="687.562" width="74.3018" height="5.12426" rx="0" ry="0" fill="#fff" stroke="#000" stroke-width="1.6" />
<rect x="2683.37" y="690.124" width="7.6864" height="3.07456" rx="0" ry="0" fill="none" stroke="#000" stroke-width="1.2" />
<rect x="2769.2" y="690.124" width="7.6864" height="3.07456" rx="0" ry="0" fill="none" stroke="#000" stroke-width="1.2" />
<rect x="2672.35" y="711.902" width="116.577" height="14.0917" rx="6.91776" ry="6.91776" fill="none" stroke="#000" stroke-width="3" />
<path d="M2675.68,718.82 L2785.86,718.82" fill="none" stroke="#000" stroke-width="2.6" stroke-linejoin="miter" stroke-dasharray="3.4 1.6"/>
<path d="M2730.77,715.746 L2730.77,722.151" fill="none" stroke="#000" stroke-width="2" stroke-linejoin="miter" />
<path d="M2676.96,714.208 L2784.57,714.208" fill="none" stroke="#000" stroke-width="2" stroke-linejoin="miter" stroke-dasharray="4.5 1.5"/>
<path d="M2676.96,723.688 L2784.57,723.688" fill="none" stroke="#000" stroke-width="2" stroke-linejoin="miter" stroke-dasharray="4.5 1.5"/>
<path d="M2732.05,695.761 q7.6864,5.63669 15.3728,0" fill="none" stroke="#000" stroke-width="1.8" />
<path d="M2762.8,695.761 q7.6864,5.63669 15.3728,0" fill="none" stroke="#000" stroke-width="1.8" />
<path d="M2716.68,741.879 q1.28107,-6.14912 8.96746,-6.14912 q7.6864,0 8.96746,6.14912" fill="none" stroke="#000" stroke-width="2.2" />
<path d="M2747.42,741.879 q1.28107,-6.14912 8.96746,-6.14912 q7.6864,0 8.96746,6.14912" fill="none" stroke="#000" stroke-width="2.2" />
<path d="M2950.5,687 L2950.5,662.453 A21.6 21.6 0 0 1 2993.7,662.453 L2993.7,687" fill="#fff" stroke="#000" stroke-width="3" />
<circle cx="2972.1" cy="662.453" r="13.2" fill="none" stroke="#000" stroke-width="2.6"/>
<path d="M2972.10,652.85 L2974.86,659.70 L2981.70,662.45 L2974.86,665.21 L2972.10,672.05 L2969.34,665.21 L2962.50,662.45 L2969.34,659.70 Z" fill="none" stroke="#000" stroke-width="2.2" stroke-linejoin="round"/>
<circle cx="2972.1" cy="652.853" r="2.1" fill="#000" stroke="none" stroke-width="0"/>
<circle cx="2981.7" cy="662.453" r="2.1" fill="#000" stroke="none" stroke-width="0"/>
<circle cx="2972.1" cy="672.053" r="2.1" fill="#000" stroke="none" stroke-width="0"/>
<circle cx="2962.5" cy="662.453" r="2.1" fill="#000" stroke="none" stroke-width="0"/>
<path d="M2891.65,685.00 L3053.58,685.00 L3055.37,687.05 L3055.37,732.40 L3033.08,750.33 L2912.66,750.33 L2889.60,732.40 L2889.60,687.05 Z" fill="#fff" stroke="#000" stroke-width="3" stroke-linejoin="round" stroke-linecap="round"/>
<path d="M2897.29,690.64 L2903.69,688.07 L3040.77,688.07 L3048.45,690.64 L3051.53,696.53 L3051.53,727.28 L3045.89,733.17 L3035.64,737.52 L3025.39,746.49 L2919.06,746.49 L2908.82,737.52 L2898.57,733.17 L2893.19,727.28 L2893.19,696.53 Z" fill="none" stroke="#000" stroke-width="3.8" stroke-linejoin="round" stroke-linecap="round"/>
<path d="M2904.97,692.69 L3039.48,692.69 L3044.61,697.81 L3044.61,723.43 L3038.20,728.56 L3029.24,732.40 L3020.27,741.88 L2924.19,741.88 L2915.22,732.40 L2906.25,728.56 L2899.85,723.43 L2899.85,697.81 Z" fill="none" stroke="#000" stroke-width="2.8" stroke-linejoin="round" stroke-linecap="round"/>
<rect x="2935.21" y="687.562" width="74.3018" height="5.12426" rx="0" ry="0" fill="#fff" stroke="#000" stroke-width="1.6" />
<rect x="2925.47" y="690.124" width="7.6864" height="3.07456" rx="0" ry="0" fill="none" stroke="#000" stroke-width="1.2" />
<rect x="3011.3" y="690.124" width="7.6864" height="3.07456" rx="0" ry="0" fill="none" stroke="#000" stroke-width="1.2" />
<rect x="2914.45" y="711.902" width="116.577" height="14.0917" rx="6.91776" ry="6.91776" fill="none" stroke="#000" stroke-width="3" />
<path d="M2917.78,718.82 L3027.96,718.82" fill="none" stroke="#000" stroke-width="2.6" stroke-linejoin="miter" stroke-dasharray="3.4 1.6"/>
<path d="M2972.87,715.746 L2972.87,722.151" fill="none" stroke="#000" stroke-width="2" stroke-linejoin="miter" />
<path d="M2919.06,714.208 L3026.67,714.208" fill="none" stroke="#000" stroke-width="2" stroke-linejoin="miter" stroke-dasharray="4.5 1.5"/>
<path d="M2919.06,723.688 L3026.67,723.688" fill="none" stroke="#000" stroke-width="2" stroke-linejoin="miter" stroke-dasharray="4.5 1.5"/>
<path d="M2974.15,695.761 q7.6864,5.63669 15.3728,0" fill="none" stroke="#000" stroke-width="1.8" />
<path d="M3004.9,695.761 q7.6864,5.63669 15.3728,0" fill="none" stroke="#000" stroke-width="1.8" />
<path d="M2958.78,741.879 q1.28107,-6.14912 8.96746,-6.14912 q7.6864,0 8.96746,6.14912" fill="none" stroke="#000" stroke-width="2.2" />
<path d="M2989.52,741.879 q1.28107,-6.14912 8.96746,-6.14912 q7.6864,0 8.96746,6.14912" fill="none" stroke="#000" stroke-width="2.2" />
<circle cx="3536.3" cy="681.3" r="33.4" fill="#fff" stroke="#000" stroke-width="4.2"/>
<circle cx="3536.3" cy="681.3" r="27" fill="none" stroke="#000" stroke-width="1.6"/>
<circle cx="3536.3" cy="681.3" r="18.3" fill="none" stroke="#000" stroke-width="2.6"/>
<rect x="3600.5" y="675" width="133.5" height="82" rx="2" ry="2" fill="none" stroke="#000" stroke-width="2" />
<path d="M3603.5,677 L3603.5,755" fill="none" stroke="#000" stroke-width="2.6" stroke-linejoin="miter" />
<path d="M3731,677 L3731,755" fill="none" stroke="#000" stroke-width="2.6" stroke-linejoin="miter" />
<rect x="3608.3" y="667.4" width="117.8" height="119.9" rx="1.5" ry="1.5" fill="#fff" stroke="#000" stroke-width="2.6" />
<path d="M3608.3,720.5 L3726.1,720.5" fill="none" stroke="#000" stroke-width="2.4" stroke-linejoin="miter" />
<rect x="3620.1" y="725" width="24.4" height="53.6" rx="1" ry="1" fill="none" stroke="#000" stroke-width="2.4" />
<path d="M3620.1,750.6 L3644.5,750.6" fill="none" stroke="#000" stroke-width="2.2" stroke-linejoin="miter" />
<circle cx="3632.3" cy="766" r="5.3" fill="none" stroke="#000" stroke-width="2.4"/>
<rect x="3656.2" y="725" width="24.6" height="53.6" rx="1" ry="1" fill="none" stroke="#000" stroke-width="2.4" />
<path d="M3656.2,750.6 L3680.8,750.6" fill="none" stroke="#000" stroke-width="2.2" stroke-linejoin="miter" />
<circle cx="3668.5" cy="766" r="5.3" fill="none" stroke="#000" stroke-width="2.4"/>
<rect x="3692.9" y="725" width="24.1" height="53.6" rx="1" ry="1" fill="none" stroke="#000" stroke-width="2.4" />
<path d="M3692.9,750.6 L3717,750.6" fill="none" stroke="#000" stroke-width="2.2" stroke-linejoin="miter" />
<circle cx="3704.95" cy="766" r="5.3" fill="none" stroke="#000" stroke-width="2.4"/>
<rect x="3750.9" y="606" width="179.713" height="152.781" rx="1.5" ry="1.5" fill="#fff" stroke="#000" stroke-width="2.8" />
<path d="M3750.9,608.014 L3930.61,608.014" fill="none" stroke="#000" stroke-width="5.5" stroke-linejoin="miter" />
<path d="M3752.91,753.747 L3928.6,753.747" fill="none" stroke="#000" stroke-width="1.6" stroke-linejoin="miter" />
<path d="M3756.44,744.43 L3756.44,753.75" fill="none" stroke="#000" stroke-width="2" stroke-linejoin="round" stroke-linecap="round"/>
<path d="M3924.57,739.40 L3927.59,739.40 L3927.59,753.75" fill="none" stroke="#000" stroke-width="2" stroke-linejoin="round" stroke-linecap="round"/>
<path d="M3776.57,653.82 L3810.55,653.82 L3810.55,637.46 L3816.85,637.46 L3816.85,618.33 L3865.42,618.33 L3865.42,637.46 L3870.96,637.46 L3870.96,653.82 L3904.94,653.82 L3904.94,676.98 L3899.15,676.98 L3899.15,698.37 L3904.94,698.37 L3904.94,723.04 L3776.57,723.04 L3776.57,698.37 L3782.36,698.37 L3782.36,676.98 L3776.57,676.98 Z" fill="none" stroke="#000" stroke-width="2.8" stroke-linejoin="round" stroke-linecap="round"/>
<rect x="3771.54" y="623.367" width="22.6529" height="11.5782" rx="5.78908" ry="5.78908" fill="none" stroke="#000" stroke-width="2.2" />
<path d="M3774.56,627.143 L3791.17,627.143" fill="none" stroke="#000" stroke-width="1" stroke-linejoin="miter" />
<path d="M3774.56,629.156 L3791.17,629.156" fill="none" stroke="#000" stroke-width="1" stroke-linejoin="miter" />
<path d="M3774.56,631.17 L3791.17,631.17" fill="none" stroke="#000" stroke-width="1" stroke-linejoin="miter" />
<rect x="3886.57" y="623.367" width="22.6529" height="11.5782" rx="5.78908" ry="5.78908" fill="none" stroke="#000" stroke-width="2.2" />
<path d="M3889.59,627.143 L3906.2,627.143" fill="none" stroke="#000" stroke-width="1" stroke-linejoin="miter" />
<path d="M3889.59,629.156 L3906.2,629.156" fill="none" stroke="#000" stroke-width="1" stroke-linejoin="miter" />
<path d="M3889.59,631.17 L3906.2,631.17" fill="none" stroke="#000" stroke-width="1" stroke-linejoin="miter" />
<circle cx="3840.25" cy="688.306" r="5.3" fill="none" stroke="#000" stroke-width="2.4"/>
<path d="M3830,723.5 L3830,780" fill="none" stroke="#5ba551" stroke-width="3.6" stroke-linejoin="miter" />
<rect x="3951" y="672.4" width="126.3" height="73.2" rx="2" ry="2" fill="#fff" stroke="#000" stroke-width="2.8" />
<path d="M3951,680.6 L4077.3,680.6" fill="none" stroke="#000" stroke-width="1.8" stroke-linejoin="miter" />
<path d="M4060,672.4 L4060,680.6" fill="none" stroke="#000" stroke-width="1.4" stroke-linejoin="miter" />
<path d="M4063,686 L4077,686" fill="none" stroke="#000" stroke-width="1.6" stroke-linejoin="miter" />
<rect x="3965.3" y="682" width="17.4" height="30" rx="1.5" ry="1.5" fill="none" stroke="#000" stroke-width="2.2" />
<path d="M3965.3,691 L3982.7,691" fill="none" stroke="#000" stroke-width="1.6" stroke-linejoin="miter" />
<rect x="3991.8" y="682" width="17.4" height="30" rx="1.5" ry="1.5" fill="none" stroke="#000" stroke-width="2.2" />
<path d="M3991.8,691 L4009.2,691" fill="none" stroke="#000" stroke-width="1.6" stroke-linejoin="miter" />
<rect x="4018.7" y="682" width="17.4" height="30" rx="1.5" ry="1.5" fill="none" stroke="#000" stroke-width="2.2" />
<path d="M4018.7,691 L4036.1,691" fill="none" stroke="#000" stroke-width="1.6" stroke-linejoin="miter" />
<rect x="4045.1" y="682" width="17.4" height="30" rx="1.5" ry="1.5" fill="none" stroke="#000" stroke-width="2.2" />
<path d="M4045.1,691 L4062.5,691" fill="none" stroke="#000" stroke-width="1.6" stroke-linejoin="miter" />
<text x="3973.6" y="738.5" font-size="18" text-anchor="middle" font-weight="bold" fill="#000"  stroke="#000" stroke-width="0.45">1</text>
<text x="4000" y="738.5" font-size="18" text-anchor="middle" font-weight="bold" fill="#000"  stroke="#000" stroke-width="0.45">2</text>
<text x="4027" y="738.5" font-size="18" text-anchor="middle" font-weight="bold" fill="#000"  stroke="#000" stroke-width="0.45">3</text>
<text x="4053.4" y="738.5" font-size="18" text-anchor="middle" font-weight="bold" fill="#000"  stroke="#000" stroke-width="0.45">4</text>
<path d="M3958,688 L3958,704" fill="none" stroke="#000" stroke-width="2.6" stroke-linejoin="miter" />
<path d="M3954.50,703.00 L3961.50,703.00 L3958.00,711.00 Z" fill="none" stroke="#000" stroke-width="1.4" stroke-linejoin="round" stroke-linecap="round"/>
<text x="3958" y="728" font-size="11" text-anchor="middle" font-weight="bold" fill="#000"  stroke="#000" stroke-width="0.45">O</text>
<text x="3958" y="741.5" font-size="10" text-anchor="middle" font-weight="bold" fill="#000"  stroke="#000" stroke-width="0.45">N</text>
<rect x="4097.5" y="638" width="97.5" height="117.5" rx="2" ry="2" fill="#fff" stroke="#000" stroke-width="4.4" />
<rect x="4099" y="640" width="94.5" height="114" rx="1" ry="1" fill="none" stroke="#fff" stroke-width="0.8" />
<circle cx="4146" cy="685" r="40.2" fill="none" stroke="#000" stroke-width="4.6"/>
<circle cx="4146" cy="685" r="29.6" fill="none" stroke="#000" stroke-width="2.4"/>
<circle cx="4146" cy="685" r="5.3" fill="none" stroke="#000" stroke-width="2.4"/>
<path d="M4203.5,738.6 L4223.5,738.6" fill="none" stroke="#000" stroke-width="5.2" stroke-linejoin="miter" />
<path d="M4213.5,728.6 L4213.5,748.6" fill="none" stroke="#000" stroke-width="5.2" stroke-linejoin="miter" />
<circle cx="4228.4" cy="789.4" r="23.6" fill="none" stroke="#000" stroke-width="2.8"/>
<circle cx="4228.4" cy="789.4" r="6" fill="none" stroke="#000" stroke-width="3"/>
<path d="M4229,754 L4229,789" fill="none" stroke="#000" stroke-width="2.6" stroke-linejoin="miter" />
<path d="M279,1540 L279,1455.5 Q279,1450 284.5,1450 L431.5,1450 Q437,1450 437,1455.5 L437,1540" fill="#fff" stroke="#333" stroke-width="2.2" />
<rect x="287.3" y="1458" width="141.4" height="78.7" rx="0" ry="0" fill="none" stroke="#333" stroke-width="2.2" />
<path d="M263,1540 L453,1540 L453,1544 Q452,1550.8 440,1550.8 L276,1550.8 Q264,1550.8 263,1544 Z" fill="#fff" stroke="#333" stroke-width="2.2" />
<path d="M264,1546.3 L452,1546.3" fill="none" stroke="#333" stroke-width="1.2" stroke-linejoin="miter" />
<path d="M336,1540 Q337,1543.3 342,1543.3 L374,1543.3 Q379,1543.3 380,1540" fill="#333" stroke="#333" stroke-width="2.4" />
<circle cx="358" cy="1454.2" r="1.9" fill="#222" stroke="none" stroke-width="0"/>
<rect x="500.4" y="1455.2" width="123.8" height="95.8" rx="9" ry="9" fill="#fff" stroke="#333" stroke-width="2.2" />
<path d="M522,1440 L522,1456.3" fill="none" stroke="#0ab6e6" stroke-width="3.6" stroke-linejoin="miter" />
<path d="M638.3,1480 L638.3,1505.6 L620.6,1505.6" fill="none" stroke="#4e628f" stroke-width="3.6" stroke-linejoin="miter" />
<rect x="693.9" y="1469.6" width="180.5" height="81.4" rx="3" ry="3" fill="#fff" stroke="#333" stroke-width="2.2" />
<rect x="704" y="1482.6" width="10.4" height="10.4" rx="0" ry="0" fill="none" stroke="#333" stroke-width="2" />
<rect x="725.09" y="1482.6" width="10.4" height="10.4" rx="0" ry="0" fill="none" stroke="#333" stroke-width="2" />
<rect x="746.18" y="1482.6" width="10.4" height="10.4" rx="0" ry="0" fill="none" stroke="#333" stroke-width="2" />
<rect x="767.27" y="1482.6" width="10.4" height="10.4" rx="0" ry="0" fill="none" stroke="#333" stroke-width="2" />
<rect x="788.36" y="1482.6" width="10.4" height="10.4" rx="0" ry="0" fill="none" stroke="#333" stroke-width="2" />
<rect x="809.45" y="1482.6" width="10.4" height="10.4" rx="0" ry="0" fill="none" stroke="#333" stroke-width="2" />
<rect x="830.54" y="1482.6" width="10.4" height="10.4" rx="0" ry="0" fill="none" stroke="#333" stroke-width="2" />
<rect x="851.63" y="1482.6" width="10.4" height="10.4" rx="0" ry="0" fill="none" stroke="#333" stroke-width="2" />
<rect x="704" y="1504" width="10.4" height="10.4" rx="0" ry="0" fill="none" stroke="#333" stroke-width="2" />
<rect x="725.09" y="1504" width="10.4" height="10.4" rx="0" ry="0" fill="none" stroke="#333" stroke-width="2" />
<rect x="746.18" y="1504" width="10.4" height="10.4" rx="0" ry="0" fill="none" stroke="#333" stroke-width="2" />
<rect x="767.27" y="1504" width="10.4" height="10.4" rx="0" ry="0" fill="none" stroke="#333" stroke-width="2" />
<rect x="788.36" y="1504" width="10.4" height="10.4" rx="0" ry="0" fill="none" stroke="#333" stroke-width="2" />
<rect x="809.45" y="1504" width="10.4" height="10.4" rx="0" ry="0" fill="none" stroke="#333" stroke-width="2" />
<rect x="830.54" y="1504" width="10.4" height="10.4" rx="0" ry="0" fill="none" stroke="#333" stroke-width="2" />
<rect x="851.63" y="1504" width="10.4" height="10.4" rx="0" ry="0" fill="none" stroke="#333" stroke-width="2" />
<rect x="704" y="1524.3" width="10.4" height="10.4" rx="0" ry="0" fill="none" stroke="#333" stroke-width="2" />
<rect x="725.09" y="1524.3" width="10.4" height="10.4" rx="0" ry="0" fill="none" stroke="#333" stroke-width="2" />
<rect x="830.54" y="1524.3" width="10.4" height="10.4" rx="0" ry="0" fill="none" stroke="#333" stroke-width="2" />
<rect x="851.63" y="1524.3" width="10.4" height="10.4" rx="0" ry="0" fill="none" stroke="#333" stroke-width="2" />
<rect x="747.8" y="1524.3" width="74" height="10.4" rx="0" ry="0" fill="none" stroke="#333" stroke-width="2" />
<path d="M785.3,1460 L785.3,1472.6" fill="none" stroke="#4e628f" stroke-width="3.6" stroke-linejoin="miter" />
<path d="M973,1458.8 C996,1458.8 1006.5,1476 1006.5,1500 L1006.5,1518 C1006.5,1540 992,1552 973,1552 C954,1552 939.7,1540 939.7,1518 L939.7,1500 C939.7,1476 950,1458.8 973,1458.8 Z" fill="#fff" stroke="#333" stroke-width="2.2" />
<path d="M942.5,1485.5 Q955,1496 973,1496 Q991,1496 1003.5,1485.5" fill="none" stroke="#333" stroke-width="2" />
<rect x="970" y="1468.7" width="6" height="16" rx="3" ry="3" fill="none" stroke="#333" stroke-width="1.8" />
<path d="M973,1484.7 L973,1496" fill="none" stroke="#333" stroke-width="1.8" stroke-linejoin="miter" />
<path d="M973,1450 L973,1460" fill="none" stroke="#4e628f" stroke-width="3.6" stroke-linejoin="miter" />
<path d="M973,1459 L973,1468.7" fill="none" stroke="#4e628f" stroke-width="1.8" stroke-linejoin="miter" />
<rect x="1107.7" y="1439.3" width="135.8" height="89.3" rx="3" ry="3" fill="#fff" stroke="#333" stroke-width="2.2" />
<rect x="1114.2" y="1445.3" width="123.3" height="77.7" rx="0" ry="0" fill="none" stroke="#333" stroke-width="2.2" />
<path d="M1131.5,1546 L1143,1535 L1209,1535 L1220.5,1546 Q1221,1551 1212,1551 L1140,1551 Q1131,1551 1131.5,1546 Z" fill="#fff" stroke="#333" stroke-width="2.2" />
<path d="M1162.5,1528.6 L1160.8,1543 L1191.6,1543 L1190,1528.6" fill="#fff" stroke="#333" stroke-width="2.2" />
<path d="M1132,1546.6 L1220,1546.6" fill="none" stroke="#333" stroke-width="1.2" stroke-linejoin="miter" />
<path d="M1176,1425 L1176,1442.5" fill="none" stroke="#0ab6e6" stroke-width="3.6" stroke-linejoin="miter" />
<rect x="1476.4" y="1427.8" width="74" height="124" rx="2.5" ry="2.5" fill="#fff" stroke="#333" stroke-width="2.2" />
<circle cx="1513.2" cy="1459.7" r="14.6" fill="none" stroke="#333" stroke-width="2.2"/>
<circle cx="1513.2" cy="1459.7" r="5.8" fill="none" stroke="#333" stroke-width="2.2"/>
<circle cx="1513.2" cy="1514.5" r="28.6" fill="none" stroke="#333" stroke-width="2.2"/>
<circle cx="1513.2" cy="1514.5" r="12" fill="none" stroke="#333" stroke-width="2.2"/>
<path d="M1493.2,1446.3 L1497.7,1446.3" fill="none" stroke="#333" stroke-width="1.6" stroke-linejoin="miter" />
<path d="M1493.2,1473 L1497.7,1473" fill="none" stroke="#333" stroke-width="1.6" stroke-linejoin="miter" />
<path d="M1528.7,1446.3 L1533.2,1446.3" fill="none" stroke="#333" stroke-width="1.6" stroke-linejoin="miter" />
<path d="M1528.7,1473 L1533.2,1473" fill="none" stroke="#333" stroke-width="1.6" stroke-linejoin="miter" />
<rect x="1568.9" y="1427.8" width="74" height="124" rx="2.5" ry="2.5" fill="#fff" stroke="#333" stroke-width="2.2" />
<circle cx="1605.7" cy="1459.7" r="14.6" fill="none" stroke="#333" stroke-width="2.2"/>
<circle cx="1605.7" cy="1459.7" r="5.8" fill="none" stroke="#333" stroke-width="2.2"/>
<circle cx="1605.7" cy="1514.5" r="28.6" fill="none" stroke="#333" stroke-width="2.2"/>
<circle cx="1605.7" cy="1514.5" r="12" fill="none" stroke="#333" stroke-width="2.2"/>
<path d="M1585.7,1446.3 L1590.2,1446.3" fill="none" stroke="#333" stroke-width="1.6" stroke-linejoin="miter" />
<path d="M1585.7,1473 L1590.2,1473" fill="none" stroke="#333" stroke-width="1.6" stroke-linejoin="miter" />
<path d="M1621.2,1446.3 L1625.7,1446.3" fill="none" stroke="#333" stroke-width="1.6" stroke-linejoin="miter" />
<path d="M1621.2,1473 L1625.7,1473" fill="none" stroke="#333" stroke-width="1.6" stroke-linejoin="miter" />
<path d="M1509.6,1428.5 L1509.6,1417.2 L1605.2,1417.2 L1605.2,1428.5" fill="none" stroke="#74377b" stroke-width="3.6" stroke-linejoin="miter" />
<circle cx="1847.2" cy="1510.6" r="40.2" fill="#fff" stroke="#333" stroke-width="2.2"/>
<circle cx="1847.2" cy="1510.6" r="22" fill="none" stroke="#333" stroke-width="2.2"/>
<circle cx="1847.2" cy="1510.6" r="18.8" fill="none" stroke="#333" stroke-width="2"/>
<circle cx="1847.2" cy="1511.5" r="3" fill="none" stroke="#333" stroke-width="1.8"/>
<path d="M1819,1492 Q1822,1486.5 1827,1483.5" fill="none" stroke="#333" stroke-width="2" />
<path d="M1836,1506 Q1838,1502.5 1841,1500.5" fill="none" stroke="#333" stroke-width="1.8" />
<path d="M1848,1460 L1848,1472" fill="none" stroke="#833026" stroke-width="3.6" stroke-linejoin="miter" />
<path d="M2004.5,1401 L1990.3,1417.6 L1990.3,1515 L2004.5,1531" fill="#fff" stroke="#333" stroke-width="2.2" />
<rect x="2004.3" y="1397.8" width="62.9" height="135.2" rx="6" ry="6" fill="#fff" stroke="#333" stroke-width="2.2" />
<path d="M2031,1390 L2031,1397.5" fill="none" stroke="#a18b85" stroke-width="3.0" stroke-linejoin="miter" />
<path d="M2119.5,1520.7 L2146,1511 L2301,1511 L2327.5,1520.7" fill="#fff" stroke="#333" stroke-width="2.2" />
<rect x="2115" y="1520.7" width="216.8" height="31" rx="4" ry="4" fill="#fff" stroke="#333" stroke-width="2.2" />
<rect x="2120.7" y="1527" width="17.7" height="17.6" rx="1" ry="1" fill="none" stroke="#333" stroke-width="1.6" />
<path d="M2123.5,1529.5 L2127,1529.5 L2127,1535 L2131,1529.5 L2135.5,1529.5 L2131,1535.2 L2135.5,1541 L2127,1541 L2123.5,1541 Z" fill="#333" stroke="#333" stroke-width="0.6" />
<path d="M2123,1542.8 L2136,1542.8" fill="none" stroke="#333" stroke-width="1" stroke-linejoin="miter" />
<rect x="2153" y="1529.6" width="13.4" height="13.4" rx="0" ry="0" fill="none" stroke="#333" stroke-width="2.2" />
<rect x="2171.3" y="1529.6" width="13.4" height="13.4" rx="0" ry="0" fill="none" stroke="#333" stroke-width="2.2" />
<rect x="2189" y="1529.6" width="13.4" height="13.4" rx="0" ry="0" fill="none" stroke="#333" stroke-width="2.2" />
<rect x="2206.7" y="1529.6" width="13.4" height="13.4" rx="0" ry="0" fill="none" stroke="#333" stroke-width="2.2" />
<rect x="2224.2" y="1529.6" width="13.4" height="13.4" rx="0" ry="0" fill="none" stroke="#333" stroke-width="2.2" />
<rect x="2242.1" y="1529.6" width="13.4" height="13.4" rx="0" ry="0" fill="none" stroke="#333" stroke-width="2.2" />
<rect x="2305.6" y="1529.6" width="13.4" height="13.4" rx="0" ry="0" fill="none" stroke="#333" stroke-width="2.2" />
<circle cx="2282.3" cy="1535.9" r="9.6" fill="none" stroke="#333" stroke-width="2.6"/>
<path d="M2228.8,1500 L2228.8,1517.5" fill="none" stroke="#c8353c" stroke-width="3.6" stroke-linejoin="miter" />
<path d="M2440.3,1551.7 C2422.6,1551.7 2413.7,1539.3 2413.7,1525.2 C2413.7,1510.6 2423.9,1499.5 2435.8,1497.7 C2431.9,1468.5 2453.5,1450.8 2475.7,1450.8 C2493.4,1450.8 2506.6,1460.5 2512.4,1474.3 C2533.2,1466.3 2557.5,1479.6 2559.8,1500.4 C2573.0,1501.7 2583.2,1512.8 2583.2,1526.0 C2583.2,1540.2 2573.0,1551.7 2559.8,1551.7 Z" fill="#fff" stroke="#333" stroke-width="2.2" />
<path d="M2496,1440 L2496,1453.5" fill="none" stroke="#5ba551" stroke-width="3.6" stroke-linejoin="miter" />
<rect x="2816" y="1441.5" width="189.5" height="110.2" rx="4" ry="4" fill="#fff" stroke="#333" stroke-width="2.2" />
<rect x="2820.3" y="1445.3" width="181.8" height="97" rx="3" ry="3" fill="none" stroke="#333" stroke-width="2.2" />
<rect x="3685.5" y="1441.5" width="189.5" height="110.2" rx="4" ry="4" fill="#fff" stroke="#333" stroke-width="2.2" />
<rect x="3689.8" y="1445.3" width="181.8" height="97" rx="3" ry="3" fill="none" stroke="#333" stroke-width="2.2" />
<path d="M2838,1420 L2838,1443.3" fill="none" stroke="#0ab6e6" stroke-width="3.6" stroke-linejoin="miter" />
<path d="M2973,1430 L2973,1441.5" fill="none" stroke="#5ba551" stroke-width="3.6" stroke-linejoin="miter" />
<rect x="3216.7" y="1542.3" width="63.6" height="9.4" rx="4.7" ry="4.7" fill="#fff" stroke="#333" stroke-width="2.2" />
<path d="M3238,1534.5 L3230.3,1542.3 M3258.5,1534.5 L3266,1542.3" fill="none" stroke="#333" stroke-width="2.2" />
<circle cx="3248" cy="1494.8" r="40.6" fill="#fff" stroke="#333" stroke-width="2.2"/>
<circle cx="3248" cy="1494.8" r="21.6" fill="none" stroke="#333" stroke-width="2.2"/>
<circle cx="3248" cy="1494.8" r="18.3" fill="none" stroke="#333" stroke-width="2"/>
<circle cx="3248" cy="1495.2" r="3" fill="none" stroke="#333" stroke-width="1.8"/>
<path d="M3220,1477.5 Q3223.5,1471.5 3229,1468" fill="none" stroke="#333" stroke-width="2" />
<path d="M3237.5,1490 Q3239.5,1486.5 3242.5,1484.5" fill="none" stroke="#333" stroke-width="1.8" />
<rect x="3346.4" y="1522.4" width="283.9" height="29.3" rx="4" ry="4" fill="#fff" stroke="#333" stroke-width="2.2" />
</svg>
</body></html>
